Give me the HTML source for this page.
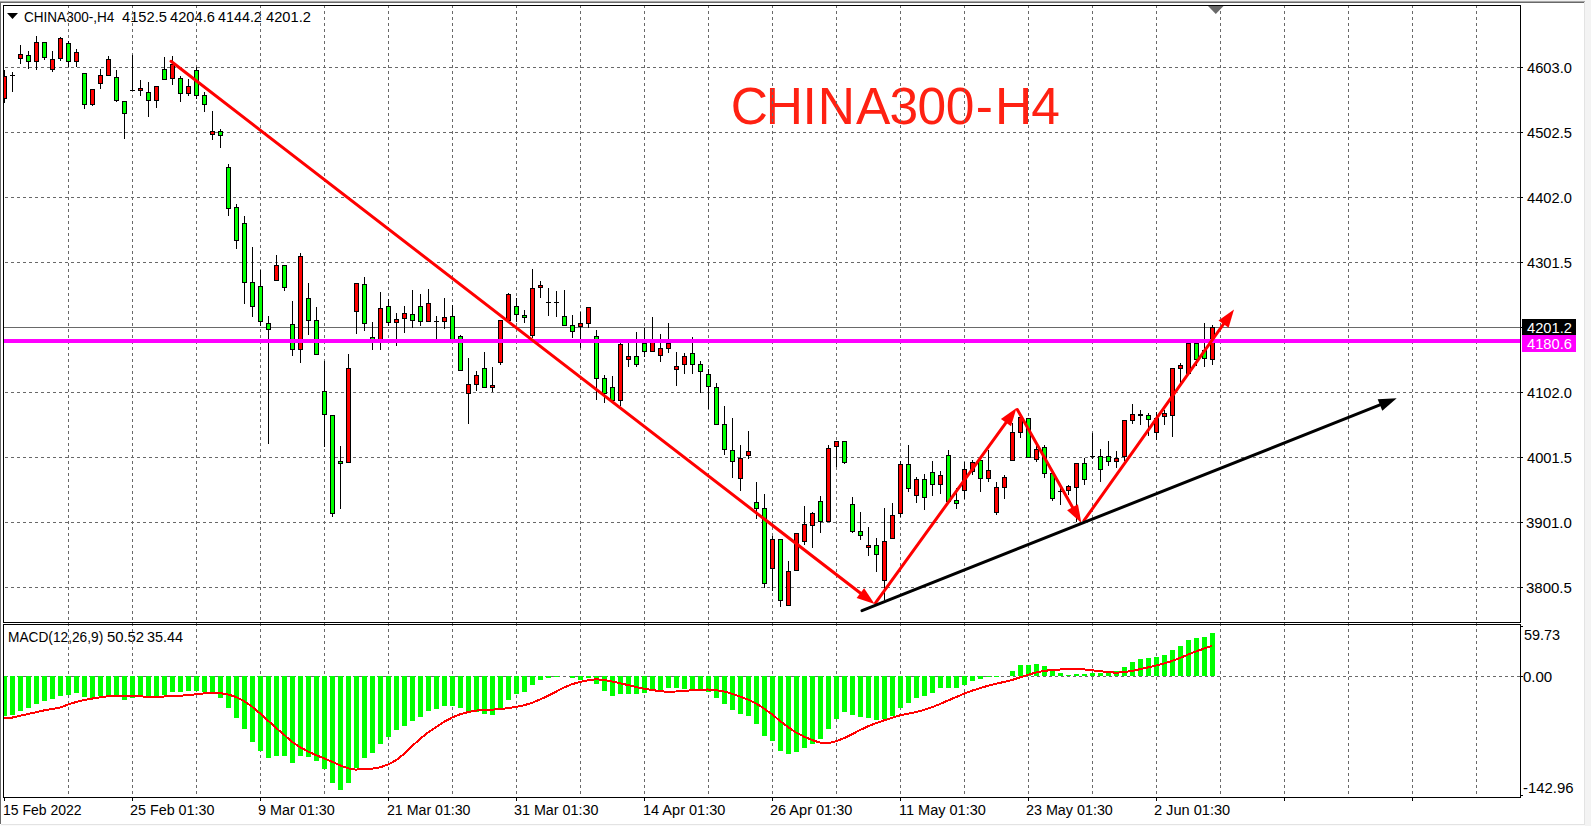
<!DOCTYPE html>
<html><head><meta charset="utf-8"><title>CHINA300-H4</title>
<style>html,body{margin:0;padding:0;background:#fff;overflow:hidden;width:1591px;height:826px}</style>
</head><body>
<svg width="1591" height="826" viewBox="0 0 1591 826" style="display:block">
<rect x="0" y="0" width="1591" height="826" fill="#f3f3f3"/>
<g shape-rendering="crispEdges">
<rect x="0" y="0" width="1585" height="826" fill="#ffffff"/>
<rect x="0" y="0" width="1585" height="1" fill="#f0f0f0"/>
<rect x="0" y="1" width="1585" height="1" fill="#a8a8a8"/>
<rect x="0" y="2" width="1584" height="1" fill="#696969"/>
<rect x="0" y="2" width="1" height="822" fill="#696969"/>
<rect x="1584" y="2" width="1" height="823" fill="#e3e3e3"/>
<rect x="1" y="824" width="1584" height="1" fill="#e3e3e3"/>
<rect x="0" y="825" width="1585" height="1" fill="#fafafa"/>
<text x="730.80 765.75 802.40 817.80 855.90 889.55 917.55 945.75 975.85 994.95 1031.15" y="124" font-family="Liberation Sans, sans-serif" font-size="51.5" fill="#ff2112">CHINA300-H4</text><text x="24.03" y="22" font-family="Liberation Sans, sans-serif" font-size="14" fill="#000" textLength="90.33" lengthAdjust="spacingAndGlyphs">CHINA300-,H4</text><text x="122.00" y="22" font-family="Liberation Sans, sans-serif" font-size="14" fill="#000" textLength="44.87" lengthAdjust="spacingAndGlyphs">4152.5</text><text x="170.00" y="22" font-family="Liberation Sans, sans-serif" font-size="14" fill="#000" textLength="44.87" lengthAdjust="spacingAndGlyphs">4204.6</text><text x="218.00" y="22" font-family="Liberation Sans, sans-serif" font-size="14" fill="#000" textLength="43.85" lengthAdjust="spacingAndGlyphs">4144.2</text><text x="266.00" y="22" font-family="Liberation Sans, sans-serif" font-size="14" fill="#000" textLength="44.87" lengthAdjust="spacingAndGlyphs">4201.2</text><text x="8.02" y="642" font-family="Liberation Sans, sans-serif" font-size="14" fill="#000" textLength="95.22" lengthAdjust="spacingAndGlyphs">MACD(12,26,9)</text><text x="106.94" y="642" font-family="Liberation Sans, sans-serif" font-size="14" fill="#000" textLength="37.17" lengthAdjust="spacingAndGlyphs">50.52</text><text x="146.97" y="642" font-family="Liberation Sans, sans-serif" font-size="14" fill="#000" textLength="36.08" lengthAdjust="spacingAndGlyphs">35.44</text>
<path d="M68 5h1v3h-1zM68 11h1v3h-1zM68 17h1v3h-1zM68 23h1v3h-1zM68 29h1v3h-1zM68 35h1v3h-1zM68 41h1v3h-1zM68 47h1v3h-1zM68 53h1v3h-1zM68 59h1v3h-1zM68 65h1v3h-1zM68 71h1v3h-1zM68 77h1v3h-1zM68 83h1v3h-1zM68 89h1v3h-1zM68 95h1v3h-1zM68 101h1v3h-1zM68 107h1v3h-1zM68 113h1v3h-1zM68 119h1v3h-1zM68 125h1v3h-1zM68 131h1v3h-1zM68 137h1v3h-1zM68 143h1v3h-1zM68 149h1v3h-1zM68 155h1v3h-1zM68 161h1v3h-1zM68 167h1v3h-1zM68 173h1v3h-1zM68 179h1v3h-1zM68 185h1v3h-1zM68 191h1v3h-1zM68 197h1v3h-1zM68 203h1v3h-1zM68 209h1v3h-1zM68 215h1v3h-1zM68 221h1v3h-1zM68 227h1v3h-1zM68 233h1v3h-1zM68 239h1v3h-1zM68 245h1v3h-1zM68 251h1v3h-1zM68 257h1v3h-1zM68 263h1v3h-1zM68 269h1v3h-1zM68 275h1v3h-1zM68 281h1v3h-1zM68 287h1v3h-1zM68 293h1v3h-1zM68 299h1v3h-1zM68 305h1v3h-1zM68 311h1v3h-1zM68 317h1v3h-1zM68 323h1v3h-1zM68 329h1v3h-1zM68 335h1v3h-1zM68 341h1v3h-1zM68 347h1v3h-1zM68 353h1v3h-1zM68 359h1v3h-1zM68 365h1v3h-1zM68 371h1v3h-1zM68 377h1v3h-1zM68 383h1v3h-1zM68 389h1v3h-1zM68 395h1v3h-1zM68 401h1v3h-1zM68 407h1v3h-1zM68 413h1v3h-1zM68 419h1v3h-1zM68 425h1v3h-1zM68 431h1v3h-1zM68 437h1v3h-1zM68 443h1v3h-1zM68 449h1v3h-1zM68 455h1v3h-1zM68 461h1v3h-1zM68 467h1v3h-1zM68 473h1v3h-1zM68 479h1v3h-1zM68 485h1v3h-1zM68 491h1v3h-1zM68 497h1v3h-1zM68 503h1v3h-1zM68 509h1v3h-1zM68 515h1v3h-1zM68 521h1v3h-1zM68 527h1v3h-1zM68 533h1v3h-1zM68 539h1v3h-1zM68 545h1v3h-1zM68 551h1v3h-1zM68 557h1v3h-1zM68 563h1v3h-1zM68 569h1v3h-1zM68 575h1v3h-1zM68 581h1v3h-1zM68 587h1v3h-1zM68 593h1v3h-1zM68 599h1v3h-1zM68 605h1v3h-1zM68 611h1v3h-1zM68 617h1v3h-1zM68 623h1v3h-1zM68 629h1v3h-1zM68 635h1v3h-1zM68 641h1v3h-1zM68 647h1v3h-1zM68 653h1v3h-1zM68 659h1v3h-1zM68 665h1v3h-1zM68 671h1v3h-1zM68 677h1v3h-1zM68 683h1v3h-1zM68 689h1v3h-1zM68 695h1v3h-1zM68 701h1v3h-1zM68 707h1v3h-1zM68 713h1v3h-1zM68 719h1v3h-1zM68 725h1v3h-1zM68 731h1v3h-1zM68 737h1v3h-1zM68 743h1v3h-1zM68 749h1v3h-1zM68 755h1v3h-1zM68 761h1v3h-1zM68 767h1v3h-1zM68 773h1v3h-1zM68 779h1v3h-1zM68 785h1v3h-1zM68 791h1v3h-1zM132 5h1v3h-1zM132 11h1v3h-1zM132 17h1v3h-1zM132 23h1v3h-1zM132 29h1v3h-1zM132 35h1v3h-1zM132 41h1v3h-1zM132 47h1v3h-1zM132 53h1v3h-1zM132 59h1v3h-1zM132 65h1v3h-1zM132 71h1v3h-1zM132 77h1v3h-1zM132 83h1v3h-1zM132 89h1v3h-1zM132 95h1v3h-1zM132 101h1v3h-1zM132 107h1v3h-1zM132 113h1v3h-1zM132 119h1v3h-1zM132 125h1v3h-1zM132 131h1v3h-1zM132 137h1v3h-1zM132 143h1v3h-1zM132 149h1v3h-1zM132 155h1v3h-1zM132 161h1v3h-1zM132 167h1v3h-1zM132 173h1v3h-1zM132 179h1v3h-1zM132 185h1v3h-1zM132 191h1v3h-1zM132 197h1v3h-1zM132 203h1v3h-1zM132 209h1v3h-1zM132 215h1v3h-1zM132 221h1v3h-1zM132 227h1v3h-1zM132 233h1v3h-1zM132 239h1v3h-1zM132 245h1v3h-1zM132 251h1v3h-1zM132 257h1v3h-1zM132 263h1v3h-1zM132 269h1v3h-1zM132 275h1v3h-1zM132 281h1v3h-1zM132 287h1v3h-1zM132 293h1v3h-1zM132 299h1v3h-1zM132 305h1v3h-1zM132 311h1v3h-1zM132 317h1v3h-1zM132 323h1v3h-1zM132 329h1v3h-1zM132 335h1v3h-1zM132 341h1v3h-1zM132 347h1v3h-1zM132 353h1v3h-1zM132 359h1v3h-1zM132 365h1v3h-1zM132 371h1v3h-1zM132 377h1v3h-1zM132 383h1v3h-1zM132 389h1v3h-1zM132 395h1v3h-1zM132 401h1v3h-1zM132 407h1v3h-1zM132 413h1v3h-1zM132 419h1v3h-1zM132 425h1v3h-1zM132 431h1v3h-1zM132 437h1v3h-1zM132 443h1v3h-1zM132 449h1v3h-1zM132 455h1v3h-1zM132 461h1v3h-1zM132 467h1v3h-1zM132 473h1v3h-1zM132 479h1v3h-1zM132 485h1v3h-1zM132 491h1v3h-1zM132 497h1v3h-1zM132 503h1v3h-1zM132 509h1v3h-1zM132 515h1v3h-1zM132 521h1v3h-1zM132 527h1v3h-1zM132 533h1v3h-1zM132 539h1v3h-1zM132 545h1v3h-1zM132 551h1v3h-1zM132 557h1v3h-1zM132 563h1v3h-1zM132 569h1v3h-1zM132 575h1v3h-1zM132 581h1v3h-1zM132 587h1v3h-1zM132 593h1v3h-1zM132 599h1v3h-1zM132 605h1v3h-1zM132 611h1v3h-1zM132 617h1v3h-1zM132 623h1v3h-1zM132 629h1v3h-1zM132 635h1v3h-1zM132 641h1v3h-1zM132 647h1v3h-1zM132 653h1v3h-1zM132 659h1v3h-1zM132 665h1v3h-1zM132 671h1v3h-1zM132 677h1v3h-1zM132 683h1v3h-1zM132 689h1v3h-1zM132 695h1v3h-1zM132 701h1v3h-1zM132 707h1v3h-1zM132 713h1v3h-1zM132 719h1v3h-1zM132 725h1v3h-1zM132 731h1v3h-1zM132 737h1v3h-1zM132 743h1v3h-1zM132 749h1v3h-1zM132 755h1v3h-1zM132 761h1v3h-1zM132 767h1v3h-1zM132 773h1v3h-1zM132 779h1v3h-1zM132 785h1v3h-1zM132 791h1v3h-1zM196 5h1v3h-1zM196 11h1v3h-1zM196 17h1v3h-1zM196 23h1v3h-1zM196 29h1v3h-1zM196 35h1v3h-1zM196 41h1v3h-1zM196 47h1v3h-1zM196 53h1v3h-1zM196 59h1v3h-1zM196 65h1v3h-1zM196 71h1v3h-1zM196 77h1v3h-1zM196 83h1v3h-1zM196 89h1v3h-1zM196 95h1v3h-1zM196 101h1v3h-1zM196 107h1v3h-1zM196 113h1v3h-1zM196 119h1v3h-1zM196 125h1v3h-1zM196 131h1v3h-1zM196 137h1v3h-1zM196 143h1v3h-1zM196 149h1v3h-1zM196 155h1v3h-1zM196 161h1v3h-1zM196 167h1v3h-1zM196 173h1v3h-1zM196 179h1v3h-1zM196 185h1v3h-1zM196 191h1v3h-1zM196 197h1v3h-1zM196 203h1v3h-1zM196 209h1v3h-1zM196 215h1v3h-1zM196 221h1v3h-1zM196 227h1v3h-1zM196 233h1v3h-1zM196 239h1v3h-1zM196 245h1v3h-1zM196 251h1v3h-1zM196 257h1v3h-1zM196 263h1v3h-1zM196 269h1v3h-1zM196 275h1v3h-1zM196 281h1v3h-1zM196 287h1v3h-1zM196 293h1v3h-1zM196 299h1v3h-1zM196 305h1v3h-1zM196 311h1v3h-1zM196 317h1v3h-1zM196 323h1v3h-1zM196 329h1v3h-1zM196 335h1v3h-1zM196 341h1v3h-1zM196 347h1v3h-1zM196 353h1v3h-1zM196 359h1v3h-1zM196 365h1v3h-1zM196 371h1v3h-1zM196 377h1v3h-1zM196 383h1v3h-1zM196 389h1v3h-1zM196 395h1v3h-1zM196 401h1v3h-1zM196 407h1v3h-1zM196 413h1v3h-1zM196 419h1v3h-1zM196 425h1v3h-1zM196 431h1v3h-1zM196 437h1v3h-1zM196 443h1v3h-1zM196 449h1v3h-1zM196 455h1v3h-1zM196 461h1v3h-1zM196 467h1v3h-1zM196 473h1v3h-1zM196 479h1v3h-1zM196 485h1v3h-1zM196 491h1v3h-1zM196 497h1v3h-1zM196 503h1v3h-1zM196 509h1v3h-1zM196 515h1v3h-1zM196 521h1v3h-1zM196 527h1v3h-1zM196 533h1v3h-1zM196 539h1v3h-1zM196 545h1v3h-1zM196 551h1v3h-1zM196 557h1v3h-1zM196 563h1v3h-1zM196 569h1v3h-1zM196 575h1v3h-1zM196 581h1v3h-1zM196 587h1v3h-1zM196 593h1v3h-1zM196 599h1v3h-1zM196 605h1v3h-1zM196 611h1v3h-1zM196 617h1v3h-1zM196 623h1v3h-1zM196 629h1v3h-1zM196 635h1v3h-1zM196 641h1v3h-1zM196 647h1v3h-1zM196 653h1v3h-1zM196 659h1v3h-1zM196 665h1v3h-1zM196 671h1v3h-1zM196 677h1v3h-1zM196 683h1v3h-1zM196 689h1v3h-1zM196 695h1v3h-1zM196 701h1v3h-1zM196 707h1v3h-1zM196 713h1v3h-1zM196 719h1v3h-1zM196 725h1v3h-1zM196 731h1v3h-1zM196 737h1v3h-1zM196 743h1v3h-1zM196 749h1v3h-1zM196 755h1v3h-1zM196 761h1v3h-1zM196 767h1v3h-1zM196 773h1v3h-1zM196 779h1v3h-1zM196 785h1v3h-1zM196 791h1v3h-1zM260 5h1v3h-1zM260 11h1v3h-1zM260 17h1v3h-1zM260 23h1v3h-1zM260 29h1v3h-1zM260 35h1v3h-1zM260 41h1v3h-1zM260 47h1v3h-1zM260 53h1v3h-1zM260 59h1v3h-1zM260 65h1v3h-1zM260 71h1v3h-1zM260 77h1v3h-1zM260 83h1v3h-1zM260 89h1v3h-1zM260 95h1v3h-1zM260 101h1v3h-1zM260 107h1v3h-1zM260 113h1v3h-1zM260 119h1v3h-1zM260 125h1v3h-1zM260 131h1v3h-1zM260 137h1v3h-1zM260 143h1v3h-1zM260 149h1v3h-1zM260 155h1v3h-1zM260 161h1v3h-1zM260 167h1v3h-1zM260 173h1v3h-1zM260 179h1v3h-1zM260 185h1v3h-1zM260 191h1v3h-1zM260 197h1v3h-1zM260 203h1v3h-1zM260 209h1v3h-1zM260 215h1v3h-1zM260 221h1v3h-1zM260 227h1v3h-1zM260 233h1v3h-1zM260 239h1v3h-1zM260 245h1v3h-1zM260 251h1v3h-1zM260 257h1v3h-1zM260 263h1v3h-1zM260 269h1v3h-1zM260 275h1v3h-1zM260 281h1v3h-1zM260 287h1v3h-1zM260 293h1v3h-1zM260 299h1v3h-1zM260 305h1v3h-1zM260 311h1v3h-1zM260 317h1v3h-1zM260 323h1v3h-1zM260 329h1v3h-1zM260 335h1v3h-1zM260 341h1v3h-1zM260 347h1v3h-1zM260 353h1v3h-1zM260 359h1v3h-1zM260 365h1v3h-1zM260 371h1v3h-1zM260 377h1v3h-1zM260 383h1v3h-1zM260 389h1v3h-1zM260 395h1v3h-1zM260 401h1v3h-1zM260 407h1v3h-1zM260 413h1v3h-1zM260 419h1v3h-1zM260 425h1v3h-1zM260 431h1v3h-1zM260 437h1v3h-1zM260 443h1v3h-1zM260 449h1v3h-1zM260 455h1v3h-1zM260 461h1v3h-1zM260 467h1v3h-1zM260 473h1v3h-1zM260 479h1v3h-1zM260 485h1v3h-1zM260 491h1v3h-1zM260 497h1v3h-1zM260 503h1v3h-1zM260 509h1v3h-1zM260 515h1v3h-1zM260 521h1v3h-1zM260 527h1v3h-1zM260 533h1v3h-1zM260 539h1v3h-1zM260 545h1v3h-1zM260 551h1v3h-1zM260 557h1v3h-1zM260 563h1v3h-1zM260 569h1v3h-1zM260 575h1v3h-1zM260 581h1v3h-1zM260 587h1v3h-1zM260 593h1v3h-1zM260 599h1v3h-1zM260 605h1v3h-1zM260 611h1v3h-1zM260 617h1v3h-1zM260 623h1v3h-1zM260 629h1v3h-1zM260 635h1v3h-1zM260 641h1v3h-1zM260 647h1v3h-1zM260 653h1v3h-1zM260 659h1v3h-1zM260 665h1v3h-1zM260 671h1v3h-1zM260 677h1v3h-1zM260 683h1v3h-1zM260 689h1v3h-1zM260 695h1v3h-1zM260 701h1v3h-1zM260 707h1v3h-1zM260 713h1v3h-1zM260 719h1v3h-1zM260 725h1v3h-1zM260 731h1v3h-1zM260 737h1v3h-1zM260 743h1v3h-1zM260 749h1v3h-1zM260 755h1v3h-1zM260 761h1v3h-1zM260 767h1v3h-1zM260 773h1v3h-1zM260 779h1v3h-1zM260 785h1v3h-1zM260 791h1v3h-1zM324 5h1v3h-1zM324 11h1v3h-1zM324 17h1v3h-1zM324 23h1v3h-1zM324 29h1v3h-1zM324 35h1v3h-1zM324 41h1v3h-1zM324 47h1v3h-1zM324 53h1v3h-1zM324 59h1v3h-1zM324 65h1v3h-1zM324 71h1v3h-1zM324 77h1v3h-1zM324 83h1v3h-1zM324 89h1v3h-1zM324 95h1v3h-1zM324 101h1v3h-1zM324 107h1v3h-1zM324 113h1v3h-1zM324 119h1v3h-1zM324 125h1v3h-1zM324 131h1v3h-1zM324 137h1v3h-1zM324 143h1v3h-1zM324 149h1v3h-1zM324 155h1v3h-1zM324 161h1v3h-1zM324 167h1v3h-1zM324 173h1v3h-1zM324 179h1v3h-1zM324 185h1v3h-1zM324 191h1v3h-1zM324 197h1v3h-1zM324 203h1v3h-1zM324 209h1v3h-1zM324 215h1v3h-1zM324 221h1v3h-1zM324 227h1v3h-1zM324 233h1v3h-1zM324 239h1v3h-1zM324 245h1v3h-1zM324 251h1v3h-1zM324 257h1v3h-1zM324 263h1v3h-1zM324 269h1v3h-1zM324 275h1v3h-1zM324 281h1v3h-1zM324 287h1v3h-1zM324 293h1v3h-1zM324 299h1v3h-1zM324 305h1v3h-1zM324 311h1v3h-1zM324 317h1v3h-1zM324 323h1v3h-1zM324 329h1v3h-1zM324 335h1v3h-1zM324 341h1v3h-1zM324 347h1v3h-1zM324 353h1v3h-1zM324 359h1v3h-1zM324 365h1v3h-1zM324 371h1v3h-1zM324 377h1v3h-1zM324 383h1v3h-1zM324 389h1v3h-1zM324 395h1v3h-1zM324 401h1v3h-1zM324 407h1v3h-1zM324 413h1v3h-1zM324 419h1v3h-1zM324 425h1v3h-1zM324 431h1v3h-1zM324 437h1v3h-1zM324 443h1v3h-1zM324 449h1v3h-1zM324 455h1v3h-1zM324 461h1v3h-1zM324 467h1v3h-1zM324 473h1v3h-1zM324 479h1v3h-1zM324 485h1v3h-1zM324 491h1v3h-1zM324 497h1v3h-1zM324 503h1v3h-1zM324 509h1v3h-1zM324 515h1v3h-1zM324 521h1v3h-1zM324 527h1v3h-1zM324 533h1v3h-1zM324 539h1v3h-1zM324 545h1v3h-1zM324 551h1v3h-1zM324 557h1v3h-1zM324 563h1v3h-1zM324 569h1v3h-1zM324 575h1v3h-1zM324 581h1v3h-1zM324 587h1v3h-1zM324 593h1v3h-1zM324 599h1v3h-1zM324 605h1v3h-1zM324 611h1v3h-1zM324 617h1v3h-1zM324 623h1v3h-1zM324 629h1v3h-1zM324 635h1v3h-1zM324 641h1v3h-1zM324 647h1v3h-1zM324 653h1v3h-1zM324 659h1v3h-1zM324 665h1v3h-1zM324 671h1v3h-1zM324 677h1v3h-1zM324 683h1v3h-1zM324 689h1v3h-1zM324 695h1v3h-1zM324 701h1v3h-1zM324 707h1v3h-1zM324 713h1v3h-1zM324 719h1v3h-1zM324 725h1v3h-1zM324 731h1v3h-1zM324 737h1v3h-1zM324 743h1v3h-1zM324 749h1v3h-1zM324 755h1v3h-1zM324 761h1v3h-1zM324 767h1v3h-1zM324 773h1v3h-1zM324 779h1v3h-1zM324 785h1v3h-1zM324 791h1v3h-1zM388 5h1v3h-1zM388 11h1v3h-1zM388 17h1v3h-1zM388 23h1v3h-1zM388 29h1v3h-1zM388 35h1v3h-1zM388 41h1v3h-1zM388 47h1v3h-1zM388 53h1v3h-1zM388 59h1v3h-1zM388 65h1v3h-1zM388 71h1v3h-1zM388 77h1v3h-1zM388 83h1v3h-1zM388 89h1v3h-1zM388 95h1v3h-1zM388 101h1v3h-1zM388 107h1v3h-1zM388 113h1v3h-1zM388 119h1v3h-1zM388 125h1v3h-1zM388 131h1v3h-1zM388 137h1v3h-1zM388 143h1v3h-1zM388 149h1v3h-1zM388 155h1v3h-1zM388 161h1v3h-1zM388 167h1v3h-1zM388 173h1v3h-1zM388 179h1v3h-1zM388 185h1v3h-1zM388 191h1v3h-1zM388 197h1v3h-1zM388 203h1v3h-1zM388 209h1v3h-1zM388 215h1v3h-1zM388 221h1v3h-1zM388 227h1v3h-1zM388 233h1v3h-1zM388 239h1v3h-1zM388 245h1v3h-1zM388 251h1v3h-1zM388 257h1v3h-1zM388 263h1v3h-1zM388 269h1v3h-1zM388 275h1v3h-1zM388 281h1v3h-1zM388 287h1v3h-1zM388 293h1v3h-1zM388 299h1v3h-1zM388 305h1v3h-1zM388 311h1v3h-1zM388 317h1v3h-1zM388 323h1v3h-1zM388 329h1v3h-1zM388 335h1v3h-1zM388 341h1v3h-1zM388 347h1v3h-1zM388 353h1v3h-1zM388 359h1v3h-1zM388 365h1v3h-1zM388 371h1v3h-1zM388 377h1v3h-1zM388 383h1v3h-1zM388 389h1v3h-1zM388 395h1v3h-1zM388 401h1v3h-1zM388 407h1v3h-1zM388 413h1v3h-1zM388 419h1v3h-1zM388 425h1v3h-1zM388 431h1v3h-1zM388 437h1v3h-1zM388 443h1v3h-1zM388 449h1v3h-1zM388 455h1v3h-1zM388 461h1v3h-1zM388 467h1v3h-1zM388 473h1v3h-1zM388 479h1v3h-1zM388 485h1v3h-1zM388 491h1v3h-1zM388 497h1v3h-1zM388 503h1v3h-1zM388 509h1v3h-1zM388 515h1v3h-1zM388 521h1v3h-1zM388 527h1v3h-1zM388 533h1v3h-1zM388 539h1v3h-1zM388 545h1v3h-1zM388 551h1v3h-1zM388 557h1v3h-1zM388 563h1v3h-1zM388 569h1v3h-1zM388 575h1v3h-1zM388 581h1v3h-1zM388 587h1v3h-1zM388 593h1v3h-1zM388 599h1v3h-1zM388 605h1v3h-1zM388 611h1v3h-1zM388 617h1v3h-1zM388 623h1v3h-1zM388 629h1v3h-1zM388 635h1v3h-1zM388 641h1v3h-1zM388 647h1v3h-1zM388 653h1v3h-1zM388 659h1v3h-1zM388 665h1v3h-1zM388 671h1v3h-1zM388 677h1v3h-1zM388 683h1v3h-1zM388 689h1v3h-1zM388 695h1v3h-1zM388 701h1v3h-1zM388 707h1v3h-1zM388 713h1v3h-1zM388 719h1v3h-1zM388 725h1v3h-1zM388 731h1v3h-1zM388 737h1v3h-1zM388 743h1v3h-1zM388 749h1v3h-1zM388 755h1v3h-1zM388 761h1v3h-1zM388 767h1v3h-1zM388 773h1v3h-1zM388 779h1v3h-1zM388 785h1v3h-1zM388 791h1v3h-1zM452 5h1v3h-1zM452 11h1v3h-1zM452 17h1v3h-1zM452 23h1v3h-1zM452 29h1v3h-1zM452 35h1v3h-1zM452 41h1v3h-1zM452 47h1v3h-1zM452 53h1v3h-1zM452 59h1v3h-1zM452 65h1v3h-1zM452 71h1v3h-1zM452 77h1v3h-1zM452 83h1v3h-1zM452 89h1v3h-1zM452 95h1v3h-1zM452 101h1v3h-1zM452 107h1v3h-1zM452 113h1v3h-1zM452 119h1v3h-1zM452 125h1v3h-1zM452 131h1v3h-1zM452 137h1v3h-1zM452 143h1v3h-1zM452 149h1v3h-1zM452 155h1v3h-1zM452 161h1v3h-1zM452 167h1v3h-1zM452 173h1v3h-1zM452 179h1v3h-1zM452 185h1v3h-1zM452 191h1v3h-1zM452 197h1v3h-1zM452 203h1v3h-1zM452 209h1v3h-1zM452 215h1v3h-1zM452 221h1v3h-1zM452 227h1v3h-1zM452 233h1v3h-1zM452 239h1v3h-1zM452 245h1v3h-1zM452 251h1v3h-1zM452 257h1v3h-1zM452 263h1v3h-1zM452 269h1v3h-1zM452 275h1v3h-1zM452 281h1v3h-1zM452 287h1v3h-1zM452 293h1v3h-1zM452 299h1v3h-1zM452 305h1v3h-1zM452 311h1v3h-1zM452 317h1v3h-1zM452 323h1v3h-1zM452 329h1v3h-1zM452 335h1v3h-1zM452 341h1v3h-1zM452 347h1v3h-1zM452 353h1v3h-1zM452 359h1v3h-1zM452 365h1v3h-1zM452 371h1v3h-1zM452 377h1v3h-1zM452 383h1v3h-1zM452 389h1v3h-1zM452 395h1v3h-1zM452 401h1v3h-1zM452 407h1v3h-1zM452 413h1v3h-1zM452 419h1v3h-1zM452 425h1v3h-1zM452 431h1v3h-1zM452 437h1v3h-1zM452 443h1v3h-1zM452 449h1v3h-1zM452 455h1v3h-1zM452 461h1v3h-1zM452 467h1v3h-1zM452 473h1v3h-1zM452 479h1v3h-1zM452 485h1v3h-1zM452 491h1v3h-1zM452 497h1v3h-1zM452 503h1v3h-1zM452 509h1v3h-1zM452 515h1v3h-1zM452 521h1v3h-1zM452 527h1v3h-1zM452 533h1v3h-1zM452 539h1v3h-1zM452 545h1v3h-1zM452 551h1v3h-1zM452 557h1v3h-1zM452 563h1v3h-1zM452 569h1v3h-1zM452 575h1v3h-1zM452 581h1v3h-1zM452 587h1v3h-1zM452 593h1v3h-1zM452 599h1v3h-1zM452 605h1v3h-1zM452 611h1v3h-1zM452 617h1v3h-1zM452 623h1v3h-1zM452 629h1v3h-1zM452 635h1v3h-1zM452 641h1v3h-1zM452 647h1v3h-1zM452 653h1v3h-1zM452 659h1v3h-1zM452 665h1v3h-1zM452 671h1v3h-1zM452 677h1v3h-1zM452 683h1v3h-1zM452 689h1v3h-1zM452 695h1v3h-1zM452 701h1v3h-1zM452 707h1v3h-1zM452 713h1v3h-1zM452 719h1v3h-1zM452 725h1v3h-1zM452 731h1v3h-1zM452 737h1v3h-1zM452 743h1v3h-1zM452 749h1v3h-1zM452 755h1v3h-1zM452 761h1v3h-1zM452 767h1v3h-1zM452 773h1v3h-1zM452 779h1v3h-1zM452 785h1v3h-1zM452 791h1v3h-1zM516 5h1v3h-1zM516 11h1v3h-1zM516 17h1v3h-1zM516 23h1v3h-1zM516 29h1v3h-1zM516 35h1v3h-1zM516 41h1v3h-1zM516 47h1v3h-1zM516 53h1v3h-1zM516 59h1v3h-1zM516 65h1v3h-1zM516 71h1v3h-1zM516 77h1v3h-1zM516 83h1v3h-1zM516 89h1v3h-1zM516 95h1v3h-1zM516 101h1v3h-1zM516 107h1v3h-1zM516 113h1v3h-1zM516 119h1v3h-1zM516 125h1v3h-1zM516 131h1v3h-1zM516 137h1v3h-1zM516 143h1v3h-1zM516 149h1v3h-1zM516 155h1v3h-1zM516 161h1v3h-1zM516 167h1v3h-1zM516 173h1v3h-1zM516 179h1v3h-1zM516 185h1v3h-1zM516 191h1v3h-1zM516 197h1v3h-1zM516 203h1v3h-1zM516 209h1v3h-1zM516 215h1v3h-1zM516 221h1v3h-1zM516 227h1v3h-1zM516 233h1v3h-1zM516 239h1v3h-1zM516 245h1v3h-1zM516 251h1v3h-1zM516 257h1v3h-1zM516 263h1v3h-1zM516 269h1v3h-1zM516 275h1v3h-1zM516 281h1v3h-1zM516 287h1v3h-1zM516 293h1v3h-1zM516 299h1v3h-1zM516 305h1v3h-1zM516 311h1v3h-1zM516 317h1v3h-1zM516 323h1v3h-1zM516 329h1v3h-1zM516 335h1v3h-1zM516 341h1v3h-1zM516 347h1v3h-1zM516 353h1v3h-1zM516 359h1v3h-1zM516 365h1v3h-1zM516 371h1v3h-1zM516 377h1v3h-1zM516 383h1v3h-1zM516 389h1v3h-1zM516 395h1v3h-1zM516 401h1v3h-1zM516 407h1v3h-1zM516 413h1v3h-1zM516 419h1v3h-1zM516 425h1v3h-1zM516 431h1v3h-1zM516 437h1v3h-1zM516 443h1v3h-1zM516 449h1v3h-1zM516 455h1v3h-1zM516 461h1v3h-1zM516 467h1v3h-1zM516 473h1v3h-1zM516 479h1v3h-1zM516 485h1v3h-1zM516 491h1v3h-1zM516 497h1v3h-1zM516 503h1v3h-1zM516 509h1v3h-1zM516 515h1v3h-1zM516 521h1v3h-1zM516 527h1v3h-1zM516 533h1v3h-1zM516 539h1v3h-1zM516 545h1v3h-1zM516 551h1v3h-1zM516 557h1v3h-1zM516 563h1v3h-1zM516 569h1v3h-1zM516 575h1v3h-1zM516 581h1v3h-1zM516 587h1v3h-1zM516 593h1v3h-1zM516 599h1v3h-1zM516 605h1v3h-1zM516 611h1v3h-1zM516 617h1v3h-1zM516 623h1v3h-1zM516 629h1v3h-1zM516 635h1v3h-1zM516 641h1v3h-1zM516 647h1v3h-1zM516 653h1v3h-1zM516 659h1v3h-1zM516 665h1v3h-1zM516 671h1v3h-1zM516 677h1v3h-1zM516 683h1v3h-1zM516 689h1v3h-1zM516 695h1v3h-1zM516 701h1v3h-1zM516 707h1v3h-1zM516 713h1v3h-1zM516 719h1v3h-1zM516 725h1v3h-1zM516 731h1v3h-1zM516 737h1v3h-1zM516 743h1v3h-1zM516 749h1v3h-1zM516 755h1v3h-1zM516 761h1v3h-1zM516 767h1v3h-1zM516 773h1v3h-1zM516 779h1v3h-1zM516 785h1v3h-1zM516 791h1v3h-1zM580 5h1v3h-1zM580 11h1v3h-1zM580 17h1v3h-1zM580 23h1v3h-1zM580 29h1v3h-1zM580 35h1v3h-1zM580 41h1v3h-1zM580 47h1v3h-1zM580 53h1v3h-1zM580 59h1v3h-1zM580 65h1v3h-1zM580 71h1v3h-1zM580 77h1v3h-1zM580 83h1v3h-1zM580 89h1v3h-1zM580 95h1v3h-1zM580 101h1v3h-1zM580 107h1v3h-1zM580 113h1v3h-1zM580 119h1v3h-1zM580 125h1v3h-1zM580 131h1v3h-1zM580 137h1v3h-1zM580 143h1v3h-1zM580 149h1v3h-1zM580 155h1v3h-1zM580 161h1v3h-1zM580 167h1v3h-1zM580 173h1v3h-1zM580 179h1v3h-1zM580 185h1v3h-1zM580 191h1v3h-1zM580 197h1v3h-1zM580 203h1v3h-1zM580 209h1v3h-1zM580 215h1v3h-1zM580 221h1v3h-1zM580 227h1v3h-1zM580 233h1v3h-1zM580 239h1v3h-1zM580 245h1v3h-1zM580 251h1v3h-1zM580 257h1v3h-1zM580 263h1v3h-1zM580 269h1v3h-1zM580 275h1v3h-1zM580 281h1v3h-1zM580 287h1v3h-1zM580 293h1v3h-1zM580 299h1v3h-1zM580 305h1v3h-1zM580 311h1v3h-1zM580 317h1v3h-1zM580 323h1v3h-1zM580 329h1v3h-1zM580 335h1v3h-1zM580 341h1v3h-1zM580 347h1v3h-1zM580 353h1v3h-1zM580 359h1v3h-1zM580 365h1v3h-1zM580 371h1v3h-1zM580 377h1v3h-1zM580 383h1v3h-1zM580 389h1v3h-1zM580 395h1v3h-1zM580 401h1v3h-1zM580 407h1v3h-1zM580 413h1v3h-1zM580 419h1v3h-1zM580 425h1v3h-1zM580 431h1v3h-1zM580 437h1v3h-1zM580 443h1v3h-1zM580 449h1v3h-1zM580 455h1v3h-1zM580 461h1v3h-1zM580 467h1v3h-1zM580 473h1v3h-1zM580 479h1v3h-1zM580 485h1v3h-1zM580 491h1v3h-1zM580 497h1v3h-1zM580 503h1v3h-1zM580 509h1v3h-1zM580 515h1v3h-1zM580 521h1v3h-1zM580 527h1v3h-1zM580 533h1v3h-1zM580 539h1v3h-1zM580 545h1v3h-1zM580 551h1v3h-1zM580 557h1v3h-1zM580 563h1v3h-1zM580 569h1v3h-1zM580 575h1v3h-1zM580 581h1v3h-1zM580 587h1v3h-1zM580 593h1v3h-1zM580 599h1v3h-1zM580 605h1v3h-1zM580 611h1v3h-1zM580 617h1v3h-1zM580 623h1v3h-1zM580 629h1v3h-1zM580 635h1v3h-1zM580 641h1v3h-1zM580 647h1v3h-1zM580 653h1v3h-1zM580 659h1v3h-1zM580 665h1v3h-1zM580 671h1v3h-1zM580 677h1v3h-1zM580 683h1v3h-1zM580 689h1v3h-1zM580 695h1v3h-1zM580 701h1v3h-1zM580 707h1v3h-1zM580 713h1v3h-1zM580 719h1v3h-1zM580 725h1v3h-1zM580 731h1v3h-1zM580 737h1v3h-1zM580 743h1v3h-1zM580 749h1v3h-1zM580 755h1v3h-1zM580 761h1v3h-1zM580 767h1v3h-1zM580 773h1v3h-1zM580 779h1v3h-1zM580 785h1v3h-1zM580 791h1v3h-1zM644 5h1v3h-1zM644 11h1v3h-1zM644 17h1v3h-1zM644 23h1v3h-1zM644 29h1v3h-1zM644 35h1v3h-1zM644 41h1v3h-1zM644 47h1v3h-1zM644 53h1v3h-1zM644 59h1v3h-1zM644 65h1v3h-1zM644 71h1v3h-1zM644 77h1v3h-1zM644 83h1v3h-1zM644 89h1v3h-1zM644 95h1v3h-1zM644 101h1v3h-1zM644 107h1v3h-1zM644 113h1v3h-1zM644 119h1v3h-1zM644 125h1v3h-1zM644 131h1v3h-1zM644 137h1v3h-1zM644 143h1v3h-1zM644 149h1v3h-1zM644 155h1v3h-1zM644 161h1v3h-1zM644 167h1v3h-1zM644 173h1v3h-1zM644 179h1v3h-1zM644 185h1v3h-1zM644 191h1v3h-1zM644 197h1v3h-1zM644 203h1v3h-1zM644 209h1v3h-1zM644 215h1v3h-1zM644 221h1v3h-1zM644 227h1v3h-1zM644 233h1v3h-1zM644 239h1v3h-1zM644 245h1v3h-1zM644 251h1v3h-1zM644 257h1v3h-1zM644 263h1v3h-1zM644 269h1v3h-1zM644 275h1v3h-1zM644 281h1v3h-1zM644 287h1v3h-1zM644 293h1v3h-1zM644 299h1v3h-1zM644 305h1v3h-1zM644 311h1v3h-1zM644 317h1v3h-1zM644 323h1v3h-1zM644 329h1v3h-1zM644 335h1v3h-1zM644 341h1v3h-1zM644 347h1v3h-1zM644 353h1v3h-1zM644 359h1v3h-1zM644 365h1v3h-1zM644 371h1v3h-1zM644 377h1v3h-1zM644 383h1v3h-1zM644 389h1v3h-1zM644 395h1v3h-1zM644 401h1v3h-1zM644 407h1v3h-1zM644 413h1v3h-1zM644 419h1v3h-1zM644 425h1v3h-1zM644 431h1v3h-1zM644 437h1v3h-1zM644 443h1v3h-1zM644 449h1v3h-1zM644 455h1v3h-1zM644 461h1v3h-1zM644 467h1v3h-1zM644 473h1v3h-1zM644 479h1v3h-1zM644 485h1v3h-1zM644 491h1v3h-1zM644 497h1v3h-1zM644 503h1v3h-1zM644 509h1v3h-1zM644 515h1v3h-1zM644 521h1v3h-1zM644 527h1v3h-1zM644 533h1v3h-1zM644 539h1v3h-1zM644 545h1v3h-1zM644 551h1v3h-1zM644 557h1v3h-1zM644 563h1v3h-1zM644 569h1v3h-1zM644 575h1v3h-1zM644 581h1v3h-1zM644 587h1v3h-1zM644 593h1v3h-1zM644 599h1v3h-1zM644 605h1v3h-1zM644 611h1v3h-1zM644 617h1v3h-1zM644 623h1v3h-1zM644 629h1v3h-1zM644 635h1v3h-1zM644 641h1v3h-1zM644 647h1v3h-1zM644 653h1v3h-1zM644 659h1v3h-1zM644 665h1v3h-1zM644 671h1v3h-1zM644 677h1v3h-1zM644 683h1v3h-1zM644 689h1v3h-1zM644 695h1v3h-1zM644 701h1v3h-1zM644 707h1v3h-1zM644 713h1v3h-1zM644 719h1v3h-1zM644 725h1v3h-1zM644 731h1v3h-1zM644 737h1v3h-1zM644 743h1v3h-1zM644 749h1v3h-1zM644 755h1v3h-1zM644 761h1v3h-1zM644 767h1v3h-1zM644 773h1v3h-1zM644 779h1v3h-1zM644 785h1v3h-1zM644 791h1v3h-1zM708 5h1v3h-1zM708 11h1v3h-1zM708 17h1v3h-1zM708 23h1v3h-1zM708 29h1v3h-1zM708 35h1v3h-1zM708 41h1v3h-1zM708 47h1v3h-1zM708 53h1v3h-1zM708 59h1v3h-1zM708 65h1v3h-1zM708 71h1v3h-1zM708 77h1v3h-1zM708 83h1v3h-1zM708 89h1v3h-1zM708 95h1v3h-1zM708 101h1v3h-1zM708 107h1v3h-1zM708 113h1v3h-1zM708 119h1v3h-1zM708 125h1v3h-1zM708 131h1v3h-1zM708 137h1v3h-1zM708 143h1v3h-1zM708 149h1v3h-1zM708 155h1v3h-1zM708 161h1v3h-1zM708 167h1v3h-1zM708 173h1v3h-1zM708 179h1v3h-1zM708 185h1v3h-1zM708 191h1v3h-1zM708 197h1v3h-1zM708 203h1v3h-1zM708 209h1v3h-1zM708 215h1v3h-1zM708 221h1v3h-1zM708 227h1v3h-1zM708 233h1v3h-1zM708 239h1v3h-1zM708 245h1v3h-1zM708 251h1v3h-1zM708 257h1v3h-1zM708 263h1v3h-1zM708 269h1v3h-1zM708 275h1v3h-1zM708 281h1v3h-1zM708 287h1v3h-1zM708 293h1v3h-1zM708 299h1v3h-1zM708 305h1v3h-1zM708 311h1v3h-1zM708 317h1v3h-1zM708 323h1v3h-1zM708 329h1v3h-1zM708 335h1v3h-1zM708 341h1v3h-1zM708 347h1v3h-1zM708 353h1v3h-1zM708 359h1v3h-1zM708 365h1v3h-1zM708 371h1v3h-1zM708 377h1v3h-1zM708 383h1v3h-1zM708 389h1v3h-1zM708 395h1v3h-1zM708 401h1v3h-1zM708 407h1v3h-1zM708 413h1v3h-1zM708 419h1v3h-1zM708 425h1v3h-1zM708 431h1v3h-1zM708 437h1v3h-1zM708 443h1v3h-1zM708 449h1v3h-1zM708 455h1v3h-1zM708 461h1v3h-1zM708 467h1v3h-1zM708 473h1v3h-1zM708 479h1v3h-1zM708 485h1v3h-1zM708 491h1v3h-1zM708 497h1v3h-1zM708 503h1v3h-1zM708 509h1v3h-1zM708 515h1v3h-1zM708 521h1v3h-1zM708 527h1v3h-1zM708 533h1v3h-1zM708 539h1v3h-1zM708 545h1v3h-1zM708 551h1v3h-1zM708 557h1v3h-1zM708 563h1v3h-1zM708 569h1v3h-1zM708 575h1v3h-1zM708 581h1v3h-1zM708 587h1v3h-1zM708 593h1v3h-1zM708 599h1v3h-1zM708 605h1v3h-1zM708 611h1v3h-1zM708 617h1v3h-1zM708 623h1v3h-1zM708 629h1v3h-1zM708 635h1v3h-1zM708 641h1v3h-1zM708 647h1v3h-1zM708 653h1v3h-1zM708 659h1v3h-1zM708 665h1v3h-1zM708 671h1v3h-1zM708 677h1v3h-1zM708 683h1v3h-1zM708 689h1v3h-1zM708 695h1v3h-1zM708 701h1v3h-1zM708 707h1v3h-1zM708 713h1v3h-1zM708 719h1v3h-1zM708 725h1v3h-1zM708 731h1v3h-1zM708 737h1v3h-1zM708 743h1v3h-1zM708 749h1v3h-1zM708 755h1v3h-1zM708 761h1v3h-1zM708 767h1v3h-1zM708 773h1v3h-1zM708 779h1v3h-1zM708 785h1v3h-1zM708 791h1v3h-1zM772 5h1v3h-1zM772 11h1v3h-1zM772 17h1v3h-1zM772 23h1v3h-1zM772 29h1v3h-1zM772 35h1v3h-1zM772 41h1v3h-1zM772 47h1v3h-1zM772 53h1v3h-1zM772 59h1v3h-1zM772 65h1v3h-1zM772 71h1v3h-1zM772 77h1v3h-1zM772 83h1v3h-1zM772 89h1v3h-1zM772 95h1v3h-1zM772 101h1v3h-1zM772 107h1v3h-1zM772 113h1v3h-1zM772 119h1v3h-1zM772 125h1v3h-1zM772 131h1v3h-1zM772 137h1v3h-1zM772 143h1v3h-1zM772 149h1v3h-1zM772 155h1v3h-1zM772 161h1v3h-1zM772 167h1v3h-1zM772 173h1v3h-1zM772 179h1v3h-1zM772 185h1v3h-1zM772 191h1v3h-1zM772 197h1v3h-1zM772 203h1v3h-1zM772 209h1v3h-1zM772 215h1v3h-1zM772 221h1v3h-1zM772 227h1v3h-1zM772 233h1v3h-1zM772 239h1v3h-1zM772 245h1v3h-1zM772 251h1v3h-1zM772 257h1v3h-1zM772 263h1v3h-1zM772 269h1v3h-1zM772 275h1v3h-1zM772 281h1v3h-1zM772 287h1v3h-1zM772 293h1v3h-1zM772 299h1v3h-1zM772 305h1v3h-1zM772 311h1v3h-1zM772 317h1v3h-1zM772 323h1v3h-1zM772 329h1v3h-1zM772 335h1v3h-1zM772 341h1v3h-1zM772 347h1v3h-1zM772 353h1v3h-1zM772 359h1v3h-1zM772 365h1v3h-1zM772 371h1v3h-1zM772 377h1v3h-1zM772 383h1v3h-1zM772 389h1v3h-1zM772 395h1v3h-1zM772 401h1v3h-1zM772 407h1v3h-1zM772 413h1v3h-1zM772 419h1v3h-1zM772 425h1v3h-1zM772 431h1v3h-1zM772 437h1v3h-1zM772 443h1v3h-1zM772 449h1v3h-1zM772 455h1v3h-1zM772 461h1v3h-1zM772 467h1v3h-1zM772 473h1v3h-1zM772 479h1v3h-1zM772 485h1v3h-1zM772 491h1v3h-1zM772 497h1v3h-1zM772 503h1v3h-1zM772 509h1v3h-1zM772 515h1v3h-1zM772 521h1v3h-1zM772 527h1v3h-1zM772 533h1v3h-1zM772 539h1v3h-1zM772 545h1v3h-1zM772 551h1v3h-1zM772 557h1v3h-1zM772 563h1v3h-1zM772 569h1v3h-1zM772 575h1v3h-1zM772 581h1v3h-1zM772 587h1v3h-1zM772 593h1v3h-1zM772 599h1v3h-1zM772 605h1v3h-1zM772 611h1v3h-1zM772 617h1v3h-1zM772 623h1v3h-1zM772 629h1v3h-1zM772 635h1v3h-1zM772 641h1v3h-1zM772 647h1v3h-1zM772 653h1v3h-1zM772 659h1v3h-1zM772 665h1v3h-1zM772 671h1v3h-1zM772 677h1v3h-1zM772 683h1v3h-1zM772 689h1v3h-1zM772 695h1v3h-1zM772 701h1v3h-1zM772 707h1v3h-1zM772 713h1v3h-1zM772 719h1v3h-1zM772 725h1v3h-1zM772 731h1v3h-1zM772 737h1v3h-1zM772 743h1v3h-1zM772 749h1v3h-1zM772 755h1v3h-1zM772 761h1v3h-1zM772 767h1v3h-1zM772 773h1v3h-1zM772 779h1v3h-1zM772 785h1v3h-1zM772 791h1v3h-1zM836 5h1v3h-1zM836 11h1v3h-1zM836 17h1v3h-1zM836 23h1v3h-1zM836 29h1v3h-1zM836 35h1v3h-1zM836 41h1v3h-1zM836 47h1v3h-1zM836 53h1v3h-1zM836 59h1v3h-1zM836 65h1v3h-1zM836 71h1v3h-1zM836 77h1v3h-1zM836 83h1v3h-1zM836 89h1v3h-1zM836 95h1v3h-1zM836 101h1v3h-1zM836 107h1v3h-1zM836 113h1v3h-1zM836 119h1v3h-1zM836 125h1v3h-1zM836 131h1v3h-1zM836 137h1v3h-1zM836 143h1v3h-1zM836 149h1v3h-1zM836 155h1v3h-1zM836 161h1v3h-1zM836 167h1v3h-1zM836 173h1v3h-1zM836 179h1v3h-1zM836 185h1v3h-1zM836 191h1v3h-1zM836 197h1v3h-1zM836 203h1v3h-1zM836 209h1v3h-1zM836 215h1v3h-1zM836 221h1v3h-1zM836 227h1v3h-1zM836 233h1v3h-1zM836 239h1v3h-1zM836 245h1v3h-1zM836 251h1v3h-1zM836 257h1v3h-1zM836 263h1v3h-1zM836 269h1v3h-1zM836 275h1v3h-1zM836 281h1v3h-1zM836 287h1v3h-1zM836 293h1v3h-1zM836 299h1v3h-1zM836 305h1v3h-1zM836 311h1v3h-1zM836 317h1v3h-1zM836 323h1v3h-1zM836 329h1v3h-1zM836 335h1v3h-1zM836 341h1v3h-1zM836 347h1v3h-1zM836 353h1v3h-1zM836 359h1v3h-1zM836 365h1v3h-1zM836 371h1v3h-1zM836 377h1v3h-1zM836 383h1v3h-1zM836 389h1v3h-1zM836 395h1v3h-1zM836 401h1v3h-1zM836 407h1v3h-1zM836 413h1v3h-1zM836 419h1v3h-1zM836 425h1v3h-1zM836 431h1v3h-1zM836 437h1v3h-1zM836 443h1v3h-1zM836 449h1v3h-1zM836 455h1v3h-1zM836 461h1v3h-1zM836 467h1v3h-1zM836 473h1v3h-1zM836 479h1v3h-1zM836 485h1v3h-1zM836 491h1v3h-1zM836 497h1v3h-1zM836 503h1v3h-1zM836 509h1v3h-1zM836 515h1v3h-1zM836 521h1v3h-1zM836 527h1v3h-1zM836 533h1v3h-1zM836 539h1v3h-1zM836 545h1v3h-1zM836 551h1v3h-1zM836 557h1v3h-1zM836 563h1v3h-1zM836 569h1v3h-1zM836 575h1v3h-1zM836 581h1v3h-1zM836 587h1v3h-1zM836 593h1v3h-1zM836 599h1v3h-1zM836 605h1v3h-1zM836 611h1v3h-1zM836 617h1v3h-1zM836 623h1v3h-1zM836 629h1v3h-1zM836 635h1v3h-1zM836 641h1v3h-1zM836 647h1v3h-1zM836 653h1v3h-1zM836 659h1v3h-1zM836 665h1v3h-1zM836 671h1v3h-1zM836 677h1v3h-1zM836 683h1v3h-1zM836 689h1v3h-1zM836 695h1v3h-1zM836 701h1v3h-1zM836 707h1v3h-1zM836 713h1v3h-1zM836 719h1v3h-1zM836 725h1v3h-1zM836 731h1v3h-1zM836 737h1v3h-1zM836 743h1v3h-1zM836 749h1v3h-1zM836 755h1v3h-1zM836 761h1v3h-1zM836 767h1v3h-1zM836 773h1v3h-1zM836 779h1v3h-1zM836 785h1v3h-1zM836 791h1v3h-1zM900 5h1v3h-1zM900 11h1v3h-1zM900 17h1v3h-1zM900 23h1v3h-1zM900 29h1v3h-1zM900 35h1v3h-1zM900 41h1v3h-1zM900 47h1v3h-1zM900 53h1v3h-1zM900 59h1v3h-1zM900 65h1v3h-1zM900 71h1v3h-1zM900 77h1v3h-1zM900 83h1v3h-1zM900 89h1v3h-1zM900 95h1v3h-1zM900 101h1v3h-1zM900 107h1v3h-1zM900 113h1v3h-1zM900 119h1v3h-1zM900 125h1v3h-1zM900 131h1v3h-1zM900 137h1v3h-1zM900 143h1v3h-1zM900 149h1v3h-1zM900 155h1v3h-1zM900 161h1v3h-1zM900 167h1v3h-1zM900 173h1v3h-1zM900 179h1v3h-1zM900 185h1v3h-1zM900 191h1v3h-1zM900 197h1v3h-1zM900 203h1v3h-1zM900 209h1v3h-1zM900 215h1v3h-1zM900 221h1v3h-1zM900 227h1v3h-1zM900 233h1v3h-1zM900 239h1v3h-1zM900 245h1v3h-1zM900 251h1v3h-1zM900 257h1v3h-1zM900 263h1v3h-1zM900 269h1v3h-1zM900 275h1v3h-1zM900 281h1v3h-1zM900 287h1v3h-1zM900 293h1v3h-1zM900 299h1v3h-1zM900 305h1v3h-1zM900 311h1v3h-1zM900 317h1v3h-1zM900 323h1v3h-1zM900 329h1v3h-1zM900 335h1v3h-1zM900 341h1v3h-1zM900 347h1v3h-1zM900 353h1v3h-1zM900 359h1v3h-1zM900 365h1v3h-1zM900 371h1v3h-1zM900 377h1v3h-1zM900 383h1v3h-1zM900 389h1v3h-1zM900 395h1v3h-1zM900 401h1v3h-1zM900 407h1v3h-1zM900 413h1v3h-1zM900 419h1v3h-1zM900 425h1v3h-1zM900 431h1v3h-1zM900 437h1v3h-1zM900 443h1v3h-1zM900 449h1v3h-1zM900 455h1v3h-1zM900 461h1v3h-1zM900 467h1v3h-1zM900 473h1v3h-1zM900 479h1v3h-1zM900 485h1v3h-1zM900 491h1v3h-1zM900 497h1v3h-1zM900 503h1v3h-1zM900 509h1v3h-1zM900 515h1v3h-1zM900 521h1v3h-1zM900 527h1v3h-1zM900 533h1v3h-1zM900 539h1v3h-1zM900 545h1v3h-1zM900 551h1v3h-1zM900 557h1v3h-1zM900 563h1v3h-1zM900 569h1v3h-1zM900 575h1v3h-1zM900 581h1v3h-1zM900 587h1v3h-1zM900 593h1v3h-1zM900 599h1v3h-1zM900 605h1v3h-1zM900 611h1v3h-1zM900 617h1v3h-1zM900 623h1v3h-1zM900 629h1v3h-1zM900 635h1v3h-1zM900 641h1v3h-1zM900 647h1v3h-1zM900 653h1v3h-1zM900 659h1v3h-1zM900 665h1v3h-1zM900 671h1v3h-1zM900 677h1v3h-1zM900 683h1v3h-1zM900 689h1v3h-1zM900 695h1v3h-1zM900 701h1v3h-1zM900 707h1v3h-1zM900 713h1v3h-1zM900 719h1v3h-1zM900 725h1v3h-1zM900 731h1v3h-1zM900 737h1v3h-1zM900 743h1v3h-1zM900 749h1v3h-1zM900 755h1v3h-1zM900 761h1v3h-1zM900 767h1v3h-1zM900 773h1v3h-1zM900 779h1v3h-1zM900 785h1v3h-1zM900 791h1v3h-1zM964 5h1v3h-1zM964 11h1v3h-1zM964 17h1v3h-1zM964 23h1v3h-1zM964 29h1v3h-1zM964 35h1v3h-1zM964 41h1v3h-1zM964 47h1v3h-1zM964 53h1v3h-1zM964 59h1v3h-1zM964 65h1v3h-1zM964 71h1v3h-1zM964 77h1v3h-1zM964 83h1v3h-1zM964 89h1v3h-1zM964 95h1v3h-1zM964 101h1v3h-1zM964 107h1v3h-1zM964 113h1v3h-1zM964 119h1v3h-1zM964 125h1v3h-1zM964 131h1v3h-1zM964 137h1v3h-1zM964 143h1v3h-1zM964 149h1v3h-1zM964 155h1v3h-1zM964 161h1v3h-1zM964 167h1v3h-1zM964 173h1v3h-1zM964 179h1v3h-1zM964 185h1v3h-1zM964 191h1v3h-1zM964 197h1v3h-1zM964 203h1v3h-1zM964 209h1v3h-1zM964 215h1v3h-1zM964 221h1v3h-1zM964 227h1v3h-1zM964 233h1v3h-1zM964 239h1v3h-1zM964 245h1v3h-1zM964 251h1v3h-1zM964 257h1v3h-1zM964 263h1v3h-1zM964 269h1v3h-1zM964 275h1v3h-1zM964 281h1v3h-1zM964 287h1v3h-1zM964 293h1v3h-1zM964 299h1v3h-1zM964 305h1v3h-1zM964 311h1v3h-1zM964 317h1v3h-1zM964 323h1v3h-1zM964 329h1v3h-1zM964 335h1v3h-1zM964 341h1v3h-1zM964 347h1v3h-1zM964 353h1v3h-1zM964 359h1v3h-1zM964 365h1v3h-1zM964 371h1v3h-1zM964 377h1v3h-1zM964 383h1v3h-1zM964 389h1v3h-1zM964 395h1v3h-1zM964 401h1v3h-1zM964 407h1v3h-1zM964 413h1v3h-1zM964 419h1v3h-1zM964 425h1v3h-1zM964 431h1v3h-1zM964 437h1v3h-1zM964 443h1v3h-1zM964 449h1v3h-1zM964 455h1v3h-1zM964 461h1v3h-1zM964 467h1v3h-1zM964 473h1v3h-1zM964 479h1v3h-1zM964 485h1v3h-1zM964 491h1v3h-1zM964 497h1v3h-1zM964 503h1v3h-1zM964 509h1v3h-1zM964 515h1v3h-1zM964 521h1v3h-1zM964 527h1v3h-1zM964 533h1v3h-1zM964 539h1v3h-1zM964 545h1v3h-1zM964 551h1v3h-1zM964 557h1v3h-1zM964 563h1v3h-1zM964 569h1v3h-1zM964 575h1v3h-1zM964 581h1v3h-1zM964 587h1v3h-1zM964 593h1v3h-1zM964 599h1v3h-1zM964 605h1v3h-1zM964 611h1v3h-1zM964 617h1v3h-1zM964 623h1v3h-1zM964 629h1v3h-1zM964 635h1v3h-1zM964 641h1v3h-1zM964 647h1v3h-1zM964 653h1v3h-1zM964 659h1v3h-1zM964 665h1v3h-1zM964 671h1v3h-1zM964 677h1v3h-1zM964 683h1v3h-1zM964 689h1v3h-1zM964 695h1v3h-1zM964 701h1v3h-1zM964 707h1v3h-1zM964 713h1v3h-1zM964 719h1v3h-1zM964 725h1v3h-1zM964 731h1v3h-1zM964 737h1v3h-1zM964 743h1v3h-1zM964 749h1v3h-1zM964 755h1v3h-1zM964 761h1v3h-1zM964 767h1v3h-1zM964 773h1v3h-1zM964 779h1v3h-1zM964 785h1v3h-1zM964 791h1v3h-1zM1028 5h1v3h-1zM1028 11h1v3h-1zM1028 17h1v3h-1zM1028 23h1v3h-1zM1028 29h1v3h-1zM1028 35h1v3h-1zM1028 41h1v3h-1zM1028 47h1v3h-1zM1028 53h1v3h-1zM1028 59h1v3h-1zM1028 65h1v3h-1zM1028 71h1v3h-1zM1028 77h1v3h-1zM1028 83h1v3h-1zM1028 89h1v3h-1zM1028 95h1v3h-1zM1028 101h1v3h-1zM1028 107h1v3h-1zM1028 113h1v3h-1zM1028 119h1v3h-1zM1028 125h1v3h-1zM1028 131h1v3h-1zM1028 137h1v3h-1zM1028 143h1v3h-1zM1028 149h1v3h-1zM1028 155h1v3h-1zM1028 161h1v3h-1zM1028 167h1v3h-1zM1028 173h1v3h-1zM1028 179h1v3h-1zM1028 185h1v3h-1zM1028 191h1v3h-1zM1028 197h1v3h-1zM1028 203h1v3h-1zM1028 209h1v3h-1zM1028 215h1v3h-1zM1028 221h1v3h-1zM1028 227h1v3h-1zM1028 233h1v3h-1zM1028 239h1v3h-1zM1028 245h1v3h-1zM1028 251h1v3h-1zM1028 257h1v3h-1zM1028 263h1v3h-1zM1028 269h1v3h-1zM1028 275h1v3h-1zM1028 281h1v3h-1zM1028 287h1v3h-1zM1028 293h1v3h-1zM1028 299h1v3h-1zM1028 305h1v3h-1zM1028 311h1v3h-1zM1028 317h1v3h-1zM1028 323h1v3h-1zM1028 329h1v3h-1zM1028 335h1v3h-1zM1028 341h1v3h-1zM1028 347h1v3h-1zM1028 353h1v3h-1zM1028 359h1v3h-1zM1028 365h1v3h-1zM1028 371h1v3h-1zM1028 377h1v3h-1zM1028 383h1v3h-1zM1028 389h1v3h-1zM1028 395h1v3h-1zM1028 401h1v3h-1zM1028 407h1v3h-1zM1028 413h1v3h-1zM1028 419h1v3h-1zM1028 425h1v3h-1zM1028 431h1v3h-1zM1028 437h1v3h-1zM1028 443h1v3h-1zM1028 449h1v3h-1zM1028 455h1v3h-1zM1028 461h1v3h-1zM1028 467h1v3h-1zM1028 473h1v3h-1zM1028 479h1v3h-1zM1028 485h1v3h-1zM1028 491h1v3h-1zM1028 497h1v3h-1zM1028 503h1v3h-1zM1028 509h1v3h-1zM1028 515h1v3h-1zM1028 521h1v3h-1zM1028 527h1v3h-1zM1028 533h1v3h-1zM1028 539h1v3h-1zM1028 545h1v3h-1zM1028 551h1v3h-1zM1028 557h1v3h-1zM1028 563h1v3h-1zM1028 569h1v3h-1zM1028 575h1v3h-1zM1028 581h1v3h-1zM1028 587h1v3h-1zM1028 593h1v3h-1zM1028 599h1v3h-1zM1028 605h1v3h-1zM1028 611h1v3h-1zM1028 617h1v3h-1zM1028 623h1v3h-1zM1028 629h1v3h-1zM1028 635h1v3h-1zM1028 641h1v3h-1zM1028 647h1v3h-1zM1028 653h1v3h-1zM1028 659h1v3h-1zM1028 665h1v3h-1zM1028 671h1v3h-1zM1028 677h1v3h-1zM1028 683h1v3h-1zM1028 689h1v3h-1zM1028 695h1v3h-1zM1028 701h1v3h-1zM1028 707h1v3h-1zM1028 713h1v3h-1zM1028 719h1v3h-1zM1028 725h1v3h-1zM1028 731h1v3h-1zM1028 737h1v3h-1zM1028 743h1v3h-1zM1028 749h1v3h-1zM1028 755h1v3h-1zM1028 761h1v3h-1zM1028 767h1v3h-1zM1028 773h1v3h-1zM1028 779h1v3h-1zM1028 785h1v3h-1zM1028 791h1v3h-1zM1092 5h1v3h-1zM1092 11h1v3h-1zM1092 17h1v3h-1zM1092 23h1v3h-1zM1092 29h1v3h-1zM1092 35h1v3h-1zM1092 41h1v3h-1zM1092 47h1v3h-1zM1092 53h1v3h-1zM1092 59h1v3h-1zM1092 65h1v3h-1zM1092 71h1v3h-1zM1092 77h1v3h-1zM1092 83h1v3h-1zM1092 89h1v3h-1zM1092 95h1v3h-1zM1092 101h1v3h-1zM1092 107h1v3h-1zM1092 113h1v3h-1zM1092 119h1v3h-1zM1092 125h1v3h-1zM1092 131h1v3h-1zM1092 137h1v3h-1zM1092 143h1v3h-1zM1092 149h1v3h-1zM1092 155h1v3h-1zM1092 161h1v3h-1zM1092 167h1v3h-1zM1092 173h1v3h-1zM1092 179h1v3h-1zM1092 185h1v3h-1zM1092 191h1v3h-1zM1092 197h1v3h-1zM1092 203h1v3h-1zM1092 209h1v3h-1zM1092 215h1v3h-1zM1092 221h1v3h-1zM1092 227h1v3h-1zM1092 233h1v3h-1zM1092 239h1v3h-1zM1092 245h1v3h-1zM1092 251h1v3h-1zM1092 257h1v3h-1zM1092 263h1v3h-1zM1092 269h1v3h-1zM1092 275h1v3h-1zM1092 281h1v3h-1zM1092 287h1v3h-1zM1092 293h1v3h-1zM1092 299h1v3h-1zM1092 305h1v3h-1zM1092 311h1v3h-1zM1092 317h1v3h-1zM1092 323h1v3h-1zM1092 329h1v3h-1zM1092 335h1v3h-1zM1092 341h1v3h-1zM1092 347h1v3h-1zM1092 353h1v3h-1zM1092 359h1v3h-1zM1092 365h1v3h-1zM1092 371h1v3h-1zM1092 377h1v3h-1zM1092 383h1v3h-1zM1092 389h1v3h-1zM1092 395h1v3h-1zM1092 401h1v3h-1zM1092 407h1v3h-1zM1092 413h1v3h-1zM1092 419h1v3h-1zM1092 425h1v3h-1zM1092 431h1v3h-1zM1092 437h1v3h-1zM1092 443h1v3h-1zM1092 449h1v3h-1zM1092 455h1v3h-1zM1092 461h1v3h-1zM1092 467h1v3h-1zM1092 473h1v3h-1zM1092 479h1v3h-1zM1092 485h1v3h-1zM1092 491h1v3h-1zM1092 497h1v3h-1zM1092 503h1v3h-1zM1092 509h1v3h-1zM1092 515h1v3h-1zM1092 521h1v3h-1zM1092 527h1v3h-1zM1092 533h1v3h-1zM1092 539h1v3h-1zM1092 545h1v3h-1zM1092 551h1v3h-1zM1092 557h1v3h-1zM1092 563h1v3h-1zM1092 569h1v3h-1zM1092 575h1v3h-1zM1092 581h1v3h-1zM1092 587h1v3h-1zM1092 593h1v3h-1zM1092 599h1v3h-1zM1092 605h1v3h-1zM1092 611h1v3h-1zM1092 617h1v3h-1zM1092 623h1v3h-1zM1092 629h1v3h-1zM1092 635h1v3h-1zM1092 641h1v3h-1zM1092 647h1v3h-1zM1092 653h1v3h-1zM1092 659h1v3h-1zM1092 665h1v3h-1zM1092 671h1v3h-1zM1092 677h1v3h-1zM1092 683h1v3h-1zM1092 689h1v3h-1zM1092 695h1v3h-1zM1092 701h1v3h-1zM1092 707h1v3h-1zM1092 713h1v3h-1zM1092 719h1v3h-1zM1092 725h1v3h-1zM1092 731h1v3h-1zM1092 737h1v3h-1zM1092 743h1v3h-1zM1092 749h1v3h-1zM1092 755h1v3h-1zM1092 761h1v3h-1zM1092 767h1v3h-1zM1092 773h1v3h-1zM1092 779h1v3h-1zM1092 785h1v3h-1zM1092 791h1v3h-1zM1156 5h1v3h-1zM1156 11h1v3h-1zM1156 17h1v3h-1zM1156 23h1v3h-1zM1156 29h1v3h-1zM1156 35h1v3h-1zM1156 41h1v3h-1zM1156 47h1v3h-1zM1156 53h1v3h-1zM1156 59h1v3h-1zM1156 65h1v3h-1zM1156 71h1v3h-1zM1156 77h1v3h-1zM1156 83h1v3h-1zM1156 89h1v3h-1zM1156 95h1v3h-1zM1156 101h1v3h-1zM1156 107h1v3h-1zM1156 113h1v3h-1zM1156 119h1v3h-1zM1156 125h1v3h-1zM1156 131h1v3h-1zM1156 137h1v3h-1zM1156 143h1v3h-1zM1156 149h1v3h-1zM1156 155h1v3h-1zM1156 161h1v3h-1zM1156 167h1v3h-1zM1156 173h1v3h-1zM1156 179h1v3h-1zM1156 185h1v3h-1zM1156 191h1v3h-1zM1156 197h1v3h-1zM1156 203h1v3h-1zM1156 209h1v3h-1zM1156 215h1v3h-1zM1156 221h1v3h-1zM1156 227h1v3h-1zM1156 233h1v3h-1zM1156 239h1v3h-1zM1156 245h1v3h-1zM1156 251h1v3h-1zM1156 257h1v3h-1zM1156 263h1v3h-1zM1156 269h1v3h-1zM1156 275h1v3h-1zM1156 281h1v3h-1zM1156 287h1v3h-1zM1156 293h1v3h-1zM1156 299h1v3h-1zM1156 305h1v3h-1zM1156 311h1v3h-1zM1156 317h1v3h-1zM1156 323h1v3h-1zM1156 329h1v3h-1zM1156 335h1v3h-1zM1156 341h1v3h-1zM1156 347h1v3h-1zM1156 353h1v3h-1zM1156 359h1v3h-1zM1156 365h1v3h-1zM1156 371h1v3h-1zM1156 377h1v3h-1zM1156 383h1v3h-1zM1156 389h1v3h-1zM1156 395h1v3h-1zM1156 401h1v3h-1zM1156 407h1v3h-1zM1156 413h1v3h-1zM1156 419h1v3h-1zM1156 425h1v3h-1zM1156 431h1v3h-1zM1156 437h1v3h-1zM1156 443h1v3h-1zM1156 449h1v3h-1zM1156 455h1v3h-1zM1156 461h1v3h-1zM1156 467h1v3h-1zM1156 473h1v3h-1zM1156 479h1v3h-1zM1156 485h1v3h-1zM1156 491h1v3h-1zM1156 497h1v3h-1zM1156 503h1v3h-1zM1156 509h1v3h-1zM1156 515h1v3h-1zM1156 521h1v3h-1zM1156 527h1v3h-1zM1156 533h1v3h-1zM1156 539h1v3h-1zM1156 545h1v3h-1zM1156 551h1v3h-1zM1156 557h1v3h-1zM1156 563h1v3h-1zM1156 569h1v3h-1zM1156 575h1v3h-1zM1156 581h1v3h-1zM1156 587h1v3h-1zM1156 593h1v3h-1zM1156 599h1v3h-1zM1156 605h1v3h-1zM1156 611h1v3h-1zM1156 617h1v3h-1zM1156 623h1v3h-1zM1156 629h1v3h-1zM1156 635h1v3h-1zM1156 641h1v3h-1zM1156 647h1v3h-1zM1156 653h1v3h-1zM1156 659h1v3h-1zM1156 665h1v3h-1zM1156 671h1v3h-1zM1156 677h1v3h-1zM1156 683h1v3h-1zM1156 689h1v3h-1zM1156 695h1v3h-1zM1156 701h1v3h-1zM1156 707h1v3h-1zM1156 713h1v3h-1zM1156 719h1v3h-1zM1156 725h1v3h-1zM1156 731h1v3h-1zM1156 737h1v3h-1zM1156 743h1v3h-1zM1156 749h1v3h-1zM1156 755h1v3h-1zM1156 761h1v3h-1zM1156 767h1v3h-1zM1156 773h1v3h-1zM1156 779h1v3h-1zM1156 785h1v3h-1zM1156 791h1v3h-1zM1220 5h1v3h-1zM1220 11h1v3h-1zM1220 17h1v3h-1zM1220 23h1v3h-1zM1220 29h1v3h-1zM1220 35h1v3h-1zM1220 41h1v3h-1zM1220 47h1v3h-1zM1220 53h1v3h-1zM1220 59h1v3h-1zM1220 65h1v3h-1zM1220 71h1v3h-1zM1220 77h1v3h-1zM1220 83h1v3h-1zM1220 89h1v3h-1zM1220 95h1v3h-1zM1220 101h1v3h-1zM1220 107h1v3h-1zM1220 113h1v3h-1zM1220 119h1v3h-1zM1220 125h1v3h-1zM1220 131h1v3h-1zM1220 137h1v3h-1zM1220 143h1v3h-1zM1220 149h1v3h-1zM1220 155h1v3h-1zM1220 161h1v3h-1zM1220 167h1v3h-1zM1220 173h1v3h-1zM1220 179h1v3h-1zM1220 185h1v3h-1zM1220 191h1v3h-1zM1220 197h1v3h-1zM1220 203h1v3h-1zM1220 209h1v3h-1zM1220 215h1v3h-1zM1220 221h1v3h-1zM1220 227h1v3h-1zM1220 233h1v3h-1zM1220 239h1v3h-1zM1220 245h1v3h-1zM1220 251h1v3h-1zM1220 257h1v3h-1zM1220 263h1v3h-1zM1220 269h1v3h-1zM1220 275h1v3h-1zM1220 281h1v3h-1zM1220 287h1v3h-1zM1220 293h1v3h-1zM1220 299h1v3h-1zM1220 305h1v3h-1zM1220 311h1v3h-1zM1220 317h1v3h-1zM1220 323h1v3h-1zM1220 329h1v3h-1zM1220 335h1v3h-1zM1220 341h1v3h-1zM1220 347h1v3h-1zM1220 353h1v3h-1zM1220 359h1v3h-1zM1220 365h1v3h-1zM1220 371h1v3h-1zM1220 377h1v3h-1zM1220 383h1v3h-1zM1220 389h1v3h-1zM1220 395h1v3h-1zM1220 401h1v3h-1zM1220 407h1v3h-1zM1220 413h1v3h-1zM1220 419h1v3h-1zM1220 425h1v3h-1zM1220 431h1v3h-1zM1220 437h1v3h-1zM1220 443h1v3h-1zM1220 449h1v3h-1zM1220 455h1v3h-1zM1220 461h1v3h-1zM1220 467h1v3h-1zM1220 473h1v3h-1zM1220 479h1v3h-1zM1220 485h1v3h-1zM1220 491h1v3h-1zM1220 497h1v3h-1zM1220 503h1v3h-1zM1220 509h1v3h-1zM1220 515h1v3h-1zM1220 521h1v3h-1zM1220 527h1v3h-1zM1220 533h1v3h-1zM1220 539h1v3h-1zM1220 545h1v3h-1zM1220 551h1v3h-1zM1220 557h1v3h-1zM1220 563h1v3h-1zM1220 569h1v3h-1zM1220 575h1v3h-1zM1220 581h1v3h-1zM1220 587h1v3h-1zM1220 593h1v3h-1zM1220 599h1v3h-1zM1220 605h1v3h-1zM1220 611h1v3h-1zM1220 617h1v3h-1zM1220 623h1v3h-1zM1220 629h1v3h-1zM1220 635h1v3h-1zM1220 641h1v3h-1zM1220 647h1v3h-1zM1220 653h1v3h-1zM1220 659h1v3h-1zM1220 665h1v3h-1zM1220 671h1v3h-1zM1220 677h1v3h-1zM1220 683h1v3h-1zM1220 689h1v3h-1zM1220 695h1v3h-1zM1220 701h1v3h-1zM1220 707h1v3h-1zM1220 713h1v3h-1zM1220 719h1v3h-1zM1220 725h1v3h-1zM1220 731h1v3h-1zM1220 737h1v3h-1zM1220 743h1v3h-1zM1220 749h1v3h-1zM1220 755h1v3h-1zM1220 761h1v3h-1zM1220 767h1v3h-1zM1220 773h1v3h-1zM1220 779h1v3h-1zM1220 785h1v3h-1zM1220 791h1v3h-1zM1284 5h1v3h-1zM1284 11h1v3h-1zM1284 17h1v3h-1zM1284 23h1v3h-1zM1284 29h1v3h-1zM1284 35h1v3h-1zM1284 41h1v3h-1zM1284 47h1v3h-1zM1284 53h1v3h-1zM1284 59h1v3h-1zM1284 65h1v3h-1zM1284 71h1v3h-1zM1284 77h1v3h-1zM1284 83h1v3h-1zM1284 89h1v3h-1zM1284 95h1v3h-1zM1284 101h1v3h-1zM1284 107h1v3h-1zM1284 113h1v3h-1zM1284 119h1v3h-1zM1284 125h1v3h-1zM1284 131h1v3h-1zM1284 137h1v3h-1zM1284 143h1v3h-1zM1284 149h1v3h-1zM1284 155h1v3h-1zM1284 161h1v3h-1zM1284 167h1v3h-1zM1284 173h1v3h-1zM1284 179h1v3h-1zM1284 185h1v3h-1zM1284 191h1v3h-1zM1284 197h1v3h-1zM1284 203h1v3h-1zM1284 209h1v3h-1zM1284 215h1v3h-1zM1284 221h1v3h-1zM1284 227h1v3h-1zM1284 233h1v3h-1zM1284 239h1v3h-1zM1284 245h1v3h-1zM1284 251h1v3h-1zM1284 257h1v3h-1zM1284 263h1v3h-1zM1284 269h1v3h-1zM1284 275h1v3h-1zM1284 281h1v3h-1zM1284 287h1v3h-1zM1284 293h1v3h-1zM1284 299h1v3h-1zM1284 305h1v3h-1zM1284 311h1v3h-1zM1284 317h1v3h-1zM1284 323h1v3h-1zM1284 329h1v3h-1zM1284 335h1v3h-1zM1284 341h1v3h-1zM1284 347h1v3h-1zM1284 353h1v3h-1zM1284 359h1v3h-1zM1284 365h1v3h-1zM1284 371h1v3h-1zM1284 377h1v3h-1zM1284 383h1v3h-1zM1284 389h1v3h-1zM1284 395h1v3h-1zM1284 401h1v3h-1zM1284 407h1v3h-1zM1284 413h1v3h-1zM1284 419h1v3h-1zM1284 425h1v3h-1zM1284 431h1v3h-1zM1284 437h1v3h-1zM1284 443h1v3h-1zM1284 449h1v3h-1zM1284 455h1v3h-1zM1284 461h1v3h-1zM1284 467h1v3h-1zM1284 473h1v3h-1zM1284 479h1v3h-1zM1284 485h1v3h-1zM1284 491h1v3h-1zM1284 497h1v3h-1zM1284 503h1v3h-1zM1284 509h1v3h-1zM1284 515h1v3h-1zM1284 521h1v3h-1zM1284 527h1v3h-1zM1284 533h1v3h-1zM1284 539h1v3h-1zM1284 545h1v3h-1zM1284 551h1v3h-1zM1284 557h1v3h-1zM1284 563h1v3h-1zM1284 569h1v3h-1zM1284 575h1v3h-1zM1284 581h1v3h-1zM1284 587h1v3h-1zM1284 593h1v3h-1zM1284 599h1v3h-1zM1284 605h1v3h-1zM1284 611h1v3h-1zM1284 617h1v3h-1zM1284 623h1v3h-1zM1284 629h1v3h-1zM1284 635h1v3h-1zM1284 641h1v3h-1zM1284 647h1v3h-1zM1284 653h1v3h-1zM1284 659h1v3h-1zM1284 665h1v3h-1zM1284 671h1v3h-1zM1284 677h1v3h-1zM1284 683h1v3h-1zM1284 689h1v3h-1zM1284 695h1v3h-1zM1284 701h1v3h-1zM1284 707h1v3h-1zM1284 713h1v3h-1zM1284 719h1v3h-1zM1284 725h1v3h-1zM1284 731h1v3h-1zM1284 737h1v3h-1zM1284 743h1v3h-1zM1284 749h1v3h-1zM1284 755h1v3h-1zM1284 761h1v3h-1zM1284 767h1v3h-1zM1284 773h1v3h-1zM1284 779h1v3h-1zM1284 785h1v3h-1zM1284 791h1v3h-1zM1348 5h1v3h-1zM1348 11h1v3h-1zM1348 17h1v3h-1zM1348 23h1v3h-1zM1348 29h1v3h-1zM1348 35h1v3h-1zM1348 41h1v3h-1zM1348 47h1v3h-1zM1348 53h1v3h-1zM1348 59h1v3h-1zM1348 65h1v3h-1zM1348 71h1v3h-1zM1348 77h1v3h-1zM1348 83h1v3h-1zM1348 89h1v3h-1zM1348 95h1v3h-1zM1348 101h1v3h-1zM1348 107h1v3h-1zM1348 113h1v3h-1zM1348 119h1v3h-1zM1348 125h1v3h-1zM1348 131h1v3h-1zM1348 137h1v3h-1zM1348 143h1v3h-1zM1348 149h1v3h-1zM1348 155h1v3h-1zM1348 161h1v3h-1zM1348 167h1v3h-1zM1348 173h1v3h-1zM1348 179h1v3h-1zM1348 185h1v3h-1zM1348 191h1v3h-1zM1348 197h1v3h-1zM1348 203h1v3h-1zM1348 209h1v3h-1zM1348 215h1v3h-1zM1348 221h1v3h-1zM1348 227h1v3h-1zM1348 233h1v3h-1zM1348 239h1v3h-1zM1348 245h1v3h-1zM1348 251h1v3h-1zM1348 257h1v3h-1zM1348 263h1v3h-1zM1348 269h1v3h-1zM1348 275h1v3h-1zM1348 281h1v3h-1zM1348 287h1v3h-1zM1348 293h1v3h-1zM1348 299h1v3h-1zM1348 305h1v3h-1zM1348 311h1v3h-1zM1348 317h1v3h-1zM1348 323h1v3h-1zM1348 329h1v3h-1zM1348 335h1v3h-1zM1348 341h1v3h-1zM1348 347h1v3h-1zM1348 353h1v3h-1zM1348 359h1v3h-1zM1348 365h1v3h-1zM1348 371h1v3h-1zM1348 377h1v3h-1zM1348 383h1v3h-1zM1348 389h1v3h-1zM1348 395h1v3h-1zM1348 401h1v3h-1zM1348 407h1v3h-1zM1348 413h1v3h-1zM1348 419h1v3h-1zM1348 425h1v3h-1zM1348 431h1v3h-1zM1348 437h1v3h-1zM1348 443h1v3h-1zM1348 449h1v3h-1zM1348 455h1v3h-1zM1348 461h1v3h-1zM1348 467h1v3h-1zM1348 473h1v3h-1zM1348 479h1v3h-1zM1348 485h1v3h-1zM1348 491h1v3h-1zM1348 497h1v3h-1zM1348 503h1v3h-1zM1348 509h1v3h-1zM1348 515h1v3h-1zM1348 521h1v3h-1zM1348 527h1v3h-1zM1348 533h1v3h-1zM1348 539h1v3h-1zM1348 545h1v3h-1zM1348 551h1v3h-1zM1348 557h1v3h-1zM1348 563h1v3h-1zM1348 569h1v3h-1zM1348 575h1v3h-1zM1348 581h1v3h-1zM1348 587h1v3h-1zM1348 593h1v3h-1zM1348 599h1v3h-1zM1348 605h1v3h-1zM1348 611h1v3h-1zM1348 617h1v3h-1zM1348 623h1v3h-1zM1348 629h1v3h-1zM1348 635h1v3h-1zM1348 641h1v3h-1zM1348 647h1v3h-1zM1348 653h1v3h-1zM1348 659h1v3h-1zM1348 665h1v3h-1zM1348 671h1v3h-1zM1348 677h1v3h-1zM1348 683h1v3h-1zM1348 689h1v3h-1zM1348 695h1v3h-1zM1348 701h1v3h-1zM1348 707h1v3h-1zM1348 713h1v3h-1zM1348 719h1v3h-1zM1348 725h1v3h-1zM1348 731h1v3h-1zM1348 737h1v3h-1zM1348 743h1v3h-1zM1348 749h1v3h-1zM1348 755h1v3h-1zM1348 761h1v3h-1zM1348 767h1v3h-1zM1348 773h1v3h-1zM1348 779h1v3h-1zM1348 785h1v3h-1zM1348 791h1v3h-1zM1412 5h1v3h-1zM1412 11h1v3h-1zM1412 17h1v3h-1zM1412 23h1v3h-1zM1412 29h1v3h-1zM1412 35h1v3h-1zM1412 41h1v3h-1zM1412 47h1v3h-1zM1412 53h1v3h-1zM1412 59h1v3h-1zM1412 65h1v3h-1zM1412 71h1v3h-1zM1412 77h1v3h-1zM1412 83h1v3h-1zM1412 89h1v3h-1zM1412 95h1v3h-1zM1412 101h1v3h-1zM1412 107h1v3h-1zM1412 113h1v3h-1zM1412 119h1v3h-1zM1412 125h1v3h-1zM1412 131h1v3h-1zM1412 137h1v3h-1zM1412 143h1v3h-1zM1412 149h1v3h-1zM1412 155h1v3h-1zM1412 161h1v3h-1zM1412 167h1v3h-1zM1412 173h1v3h-1zM1412 179h1v3h-1zM1412 185h1v3h-1zM1412 191h1v3h-1zM1412 197h1v3h-1zM1412 203h1v3h-1zM1412 209h1v3h-1zM1412 215h1v3h-1zM1412 221h1v3h-1zM1412 227h1v3h-1zM1412 233h1v3h-1zM1412 239h1v3h-1zM1412 245h1v3h-1zM1412 251h1v3h-1zM1412 257h1v3h-1zM1412 263h1v3h-1zM1412 269h1v3h-1zM1412 275h1v3h-1zM1412 281h1v3h-1zM1412 287h1v3h-1zM1412 293h1v3h-1zM1412 299h1v3h-1zM1412 305h1v3h-1zM1412 311h1v3h-1zM1412 317h1v3h-1zM1412 323h1v3h-1zM1412 329h1v3h-1zM1412 335h1v3h-1zM1412 341h1v3h-1zM1412 347h1v3h-1zM1412 353h1v3h-1zM1412 359h1v3h-1zM1412 365h1v3h-1zM1412 371h1v3h-1zM1412 377h1v3h-1zM1412 383h1v3h-1zM1412 389h1v3h-1zM1412 395h1v3h-1zM1412 401h1v3h-1zM1412 407h1v3h-1zM1412 413h1v3h-1zM1412 419h1v3h-1zM1412 425h1v3h-1zM1412 431h1v3h-1zM1412 437h1v3h-1zM1412 443h1v3h-1zM1412 449h1v3h-1zM1412 455h1v3h-1zM1412 461h1v3h-1zM1412 467h1v3h-1zM1412 473h1v3h-1zM1412 479h1v3h-1zM1412 485h1v3h-1zM1412 491h1v3h-1zM1412 497h1v3h-1zM1412 503h1v3h-1zM1412 509h1v3h-1zM1412 515h1v3h-1zM1412 521h1v3h-1zM1412 527h1v3h-1zM1412 533h1v3h-1zM1412 539h1v3h-1zM1412 545h1v3h-1zM1412 551h1v3h-1zM1412 557h1v3h-1zM1412 563h1v3h-1zM1412 569h1v3h-1zM1412 575h1v3h-1zM1412 581h1v3h-1zM1412 587h1v3h-1zM1412 593h1v3h-1zM1412 599h1v3h-1zM1412 605h1v3h-1zM1412 611h1v3h-1zM1412 617h1v3h-1zM1412 623h1v3h-1zM1412 629h1v3h-1zM1412 635h1v3h-1zM1412 641h1v3h-1zM1412 647h1v3h-1zM1412 653h1v3h-1zM1412 659h1v3h-1zM1412 665h1v3h-1zM1412 671h1v3h-1zM1412 677h1v3h-1zM1412 683h1v3h-1zM1412 689h1v3h-1zM1412 695h1v3h-1zM1412 701h1v3h-1zM1412 707h1v3h-1zM1412 713h1v3h-1zM1412 719h1v3h-1zM1412 725h1v3h-1zM1412 731h1v3h-1zM1412 737h1v3h-1zM1412 743h1v3h-1zM1412 749h1v3h-1zM1412 755h1v3h-1zM1412 761h1v3h-1zM1412 767h1v3h-1zM1412 773h1v3h-1zM1412 779h1v3h-1zM1412 785h1v3h-1zM1412 791h1v3h-1zM1476 5h1v3h-1zM1476 11h1v3h-1zM1476 17h1v3h-1zM1476 23h1v3h-1zM1476 29h1v3h-1zM1476 35h1v3h-1zM1476 41h1v3h-1zM1476 47h1v3h-1zM1476 53h1v3h-1zM1476 59h1v3h-1zM1476 65h1v3h-1zM1476 71h1v3h-1zM1476 77h1v3h-1zM1476 83h1v3h-1zM1476 89h1v3h-1zM1476 95h1v3h-1zM1476 101h1v3h-1zM1476 107h1v3h-1zM1476 113h1v3h-1zM1476 119h1v3h-1zM1476 125h1v3h-1zM1476 131h1v3h-1zM1476 137h1v3h-1zM1476 143h1v3h-1zM1476 149h1v3h-1zM1476 155h1v3h-1zM1476 161h1v3h-1zM1476 167h1v3h-1zM1476 173h1v3h-1zM1476 179h1v3h-1zM1476 185h1v3h-1zM1476 191h1v3h-1zM1476 197h1v3h-1zM1476 203h1v3h-1zM1476 209h1v3h-1zM1476 215h1v3h-1zM1476 221h1v3h-1zM1476 227h1v3h-1zM1476 233h1v3h-1zM1476 239h1v3h-1zM1476 245h1v3h-1zM1476 251h1v3h-1zM1476 257h1v3h-1zM1476 263h1v3h-1zM1476 269h1v3h-1zM1476 275h1v3h-1zM1476 281h1v3h-1zM1476 287h1v3h-1zM1476 293h1v3h-1zM1476 299h1v3h-1zM1476 305h1v3h-1zM1476 311h1v3h-1zM1476 317h1v3h-1zM1476 323h1v3h-1zM1476 329h1v3h-1zM1476 335h1v3h-1zM1476 341h1v3h-1zM1476 347h1v3h-1zM1476 353h1v3h-1zM1476 359h1v3h-1zM1476 365h1v3h-1zM1476 371h1v3h-1zM1476 377h1v3h-1zM1476 383h1v3h-1zM1476 389h1v3h-1zM1476 395h1v3h-1zM1476 401h1v3h-1zM1476 407h1v3h-1zM1476 413h1v3h-1zM1476 419h1v3h-1zM1476 425h1v3h-1zM1476 431h1v3h-1zM1476 437h1v3h-1zM1476 443h1v3h-1zM1476 449h1v3h-1zM1476 455h1v3h-1zM1476 461h1v3h-1zM1476 467h1v3h-1zM1476 473h1v3h-1zM1476 479h1v3h-1zM1476 485h1v3h-1zM1476 491h1v3h-1zM1476 497h1v3h-1zM1476 503h1v3h-1zM1476 509h1v3h-1zM1476 515h1v3h-1zM1476 521h1v3h-1zM1476 527h1v3h-1zM1476 533h1v3h-1zM1476 539h1v3h-1zM1476 545h1v3h-1zM1476 551h1v3h-1zM1476 557h1v3h-1zM1476 563h1v3h-1zM1476 569h1v3h-1zM1476 575h1v3h-1zM1476 581h1v3h-1zM1476 587h1v3h-1zM1476 593h1v3h-1zM1476 599h1v3h-1zM1476 605h1v3h-1zM1476 611h1v3h-1zM1476 617h1v3h-1zM1476 623h1v3h-1zM1476 629h1v3h-1zM1476 635h1v3h-1zM1476 641h1v3h-1zM1476 647h1v3h-1zM1476 653h1v3h-1zM1476 659h1v3h-1zM1476 665h1v3h-1zM1476 671h1v3h-1zM1476 677h1v3h-1zM1476 683h1v3h-1zM1476 689h1v3h-1zM1476 695h1v3h-1zM1476 701h1v3h-1zM1476 707h1v3h-1zM1476 713h1v3h-1zM1476 719h1v3h-1zM1476 725h1v3h-1zM1476 731h1v3h-1zM1476 737h1v3h-1zM1476 743h1v3h-1zM1476 749h1v3h-1zM1476 755h1v3h-1zM1476 761h1v3h-1zM1476 767h1v3h-1zM1476 773h1v3h-1zM1476 779h1v3h-1zM1476 785h1v3h-1zM1476 791h1v3h-1zM5 67h3v1h-3zM11 67h3v1h-3zM17 67h3v1h-3zM23 67h3v1h-3zM29 67h3v1h-3zM35 67h3v1h-3zM41 67h3v1h-3zM47 67h3v1h-3zM53 67h3v1h-3zM59 67h3v1h-3zM65 67h3v1h-3zM71 67h3v1h-3zM77 67h3v1h-3zM83 67h3v1h-3zM89 67h3v1h-3zM95 67h3v1h-3zM101 67h3v1h-3zM107 67h3v1h-3zM113 67h3v1h-3zM119 67h3v1h-3zM125 67h3v1h-3zM131 67h3v1h-3zM137 67h3v1h-3zM143 67h3v1h-3zM149 67h3v1h-3zM155 67h3v1h-3zM161 67h3v1h-3zM167 67h3v1h-3zM173 67h3v1h-3zM179 67h3v1h-3zM185 67h3v1h-3zM191 67h3v1h-3zM197 67h3v1h-3zM203 67h3v1h-3zM209 67h3v1h-3zM215 67h3v1h-3zM221 67h3v1h-3zM227 67h3v1h-3zM233 67h3v1h-3zM239 67h3v1h-3zM245 67h3v1h-3zM251 67h3v1h-3zM257 67h3v1h-3zM263 67h3v1h-3zM269 67h3v1h-3zM275 67h3v1h-3zM281 67h3v1h-3zM287 67h3v1h-3zM293 67h3v1h-3zM299 67h3v1h-3zM305 67h3v1h-3zM311 67h3v1h-3zM317 67h3v1h-3zM323 67h3v1h-3zM329 67h3v1h-3zM335 67h3v1h-3zM341 67h3v1h-3zM347 67h3v1h-3zM353 67h3v1h-3zM359 67h3v1h-3zM365 67h3v1h-3zM371 67h3v1h-3zM377 67h3v1h-3zM383 67h3v1h-3zM389 67h3v1h-3zM395 67h3v1h-3zM401 67h3v1h-3zM407 67h3v1h-3zM413 67h3v1h-3zM419 67h3v1h-3zM425 67h3v1h-3zM431 67h3v1h-3zM437 67h3v1h-3zM443 67h3v1h-3zM449 67h3v1h-3zM455 67h3v1h-3zM461 67h3v1h-3zM467 67h3v1h-3zM473 67h3v1h-3zM479 67h3v1h-3zM485 67h3v1h-3zM491 67h3v1h-3zM497 67h3v1h-3zM503 67h3v1h-3zM509 67h3v1h-3zM515 67h3v1h-3zM521 67h3v1h-3zM527 67h3v1h-3zM533 67h3v1h-3zM539 67h3v1h-3zM545 67h3v1h-3zM551 67h3v1h-3zM557 67h3v1h-3zM563 67h3v1h-3zM569 67h3v1h-3zM575 67h3v1h-3zM581 67h3v1h-3zM587 67h3v1h-3zM593 67h3v1h-3zM599 67h3v1h-3zM605 67h3v1h-3zM611 67h3v1h-3zM617 67h3v1h-3zM623 67h3v1h-3zM629 67h3v1h-3zM635 67h3v1h-3zM641 67h3v1h-3zM647 67h3v1h-3zM653 67h3v1h-3zM659 67h3v1h-3zM665 67h3v1h-3zM671 67h3v1h-3zM677 67h3v1h-3zM683 67h3v1h-3zM689 67h3v1h-3zM695 67h3v1h-3zM701 67h3v1h-3zM707 67h3v1h-3zM713 67h3v1h-3zM719 67h3v1h-3zM725 67h3v1h-3zM731 67h3v1h-3zM737 67h3v1h-3zM743 67h3v1h-3zM749 67h3v1h-3zM755 67h3v1h-3zM761 67h3v1h-3zM767 67h3v1h-3zM773 67h3v1h-3zM779 67h3v1h-3zM785 67h3v1h-3zM791 67h3v1h-3zM797 67h3v1h-3zM803 67h3v1h-3zM809 67h3v1h-3zM815 67h3v1h-3zM821 67h3v1h-3zM827 67h3v1h-3zM833 67h3v1h-3zM839 67h3v1h-3zM845 67h3v1h-3zM851 67h3v1h-3zM857 67h3v1h-3zM863 67h3v1h-3zM869 67h3v1h-3zM875 67h3v1h-3zM881 67h3v1h-3zM887 67h3v1h-3zM893 67h3v1h-3zM899 67h3v1h-3zM905 67h3v1h-3zM911 67h3v1h-3zM917 67h3v1h-3zM923 67h3v1h-3zM929 67h3v1h-3zM935 67h3v1h-3zM941 67h3v1h-3zM947 67h3v1h-3zM953 67h3v1h-3zM959 67h3v1h-3zM965 67h3v1h-3zM971 67h3v1h-3zM977 67h3v1h-3zM983 67h3v1h-3zM989 67h3v1h-3zM995 67h3v1h-3zM1001 67h3v1h-3zM1007 67h3v1h-3zM1013 67h3v1h-3zM1019 67h3v1h-3zM1025 67h3v1h-3zM1031 67h3v1h-3zM1037 67h3v1h-3zM1043 67h3v1h-3zM1049 67h3v1h-3zM1055 67h3v1h-3zM1061 67h3v1h-3zM1067 67h3v1h-3zM1073 67h3v1h-3zM1079 67h3v1h-3zM1085 67h3v1h-3zM1091 67h3v1h-3zM1097 67h3v1h-3zM1103 67h3v1h-3zM1109 67h3v1h-3zM1115 67h3v1h-3zM1121 67h3v1h-3zM1127 67h3v1h-3zM1133 67h3v1h-3zM1139 67h3v1h-3zM1145 67h3v1h-3zM1151 67h3v1h-3zM1157 67h3v1h-3zM1163 67h3v1h-3zM1169 67h3v1h-3zM1175 67h3v1h-3zM1181 67h3v1h-3zM1187 67h3v1h-3zM1193 67h3v1h-3zM1199 67h3v1h-3zM1205 67h3v1h-3zM1211 67h3v1h-3zM1217 67h3v1h-3zM1223 67h3v1h-3zM1229 67h3v1h-3zM1235 67h3v1h-3zM1241 67h3v1h-3zM1247 67h3v1h-3zM1253 67h3v1h-3zM1259 67h3v1h-3zM1265 67h3v1h-3zM1271 67h3v1h-3zM1277 67h3v1h-3zM1283 67h3v1h-3zM1289 67h3v1h-3zM1295 67h3v1h-3zM1301 67h3v1h-3zM1307 67h3v1h-3zM1313 67h3v1h-3zM1319 67h3v1h-3zM1325 67h3v1h-3zM1331 67h3v1h-3zM1337 67h3v1h-3zM1343 67h3v1h-3zM1349 67h3v1h-3zM1355 67h3v1h-3zM1361 67h3v1h-3zM1367 67h3v1h-3zM1373 67h3v1h-3zM1379 67h3v1h-3zM1385 67h3v1h-3zM1391 67h3v1h-3zM1397 67h3v1h-3zM1403 67h3v1h-3zM1409 67h3v1h-3zM1415 67h3v1h-3zM1421 67h3v1h-3zM1427 67h3v1h-3zM1433 67h3v1h-3zM1439 67h3v1h-3zM1445 67h3v1h-3zM1451 67h3v1h-3zM1457 67h3v1h-3zM1463 67h3v1h-3zM1469 67h3v1h-3zM1475 67h3v1h-3zM1481 67h3v1h-3zM1487 67h3v1h-3zM1493 67h3v1h-3zM1499 67h3v1h-3zM1505 67h3v1h-3zM1511 67h3v1h-3zM1517 67h3v1h-3zM5 132h3v1h-3zM11 132h3v1h-3zM17 132h3v1h-3zM23 132h3v1h-3zM29 132h3v1h-3zM35 132h3v1h-3zM41 132h3v1h-3zM47 132h3v1h-3zM53 132h3v1h-3zM59 132h3v1h-3zM65 132h3v1h-3zM71 132h3v1h-3zM77 132h3v1h-3zM83 132h3v1h-3zM89 132h3v1h-3zM95 132h3v1h-3zM101 132h3v1h-3zM107 132h3v1h-3zM113 132h3v1h-3zM119 132h3v1h-3zM125 132h3v1h-3zM131 132h3v1h-3zM137 132h3v1h-3zM143 132h3v1h-3zM149 132h3v1h-3zM155 132h3v1h-3zM161 132h3v1h-3zM167 132h3v1h-3zM173 132h3v1h-3zM179 132h3v1h-3zM185 132h3v1h-3zM191 132h3v1h-3zM197 132h3v1h-3zM203 132h3v1h-3zM209 132h3v1h-3zM215 132h3v1h-3zM221 132h3v1h-3zM227 132h3v1h-3zM233 132h3v1h-3zM239 132h3v1h-3zM245 132h3v1h-3zM251 132h3v1h-3zM257 132h3v1h-3zM263 132h3v1h-3zM269 132h3v1h-3zM275 132h3v1h-3zM281 132h3v1h-3zM287 132h3v1h-3zM293 132h3v1h-3zM299 132h3v1h-3zM305 132h3v1h-3zM311 132h3v1h-3zM317 132h3v1h-3zM323 132h3v1h-3zM329 132h3v1h-3zM335 132h3v1h-3zM341 132h3v1h-3zM347 132h3v1h-3zM353 132h3v1h-3zM359 132h3v1h-3zM365 132h3v1h-3zM371 132h3v1h-3zM377 132h3v1h-3zM383 132h3v1h-3zM389 132h3v1h-3zM395 132h3v1h-3zM401 132h3v1h-3zM407 132h3v1h-3zM413 132h3v1h-3zM419 132h3v1h-3zM425 132h3v1h-3zM431 132h3v1h-3zM437 132h3v1h-3zM443 132h3v1h-3zM449 132h3v1h-3zM455 132h3v1h-3zM461 132h3v1h-3zM467 132h3v1h-3zM473 132h3v1h-3zM479 132h3v1h-3zM485 132h3v1h-3zM491 132h3v1h-3zM497 132h3v1h-3zM503 132h3v1h-3zM509 132h3v1h-3zM515 132h3v1h-3zM521 132h3v1h-3zM527 132h3v1h-3zM533 132h3v1h-3zM539 132h3v1h-3zM545 132h3v1h-3zM551 132h3v1h-3zM557 132h3v1h-3zM563 132h3v1h-3zM569 132h3v1h-3zM575 132h3v1h-3zM581 132h3v1h-3zM587 132h3v1h-3zM593 132h3v1h-3zM599 132h3v1h-3zM605 132h3v1h-3zM611 132h3v1h-3zM617 132h3v1h-3zM623 132h3v1h-3zM629 132h3v1h-3zM635 132h3v1h-3zM641 132h3v1h-3zM647 132h3v1h-3zM653 132h3v1h-3zM659 132h3v1h-3zM665 132h3v1h-3zM671 132h3v1h-3zM677 132h3v1h-3zM683 132h3v1h-3zM689 132h3v1h-3zM695 132h3v1h-3zM701 132h3v1h-3zM707 132h3v1h-3zM713 132h3v1h-3zM719 132h3v1h-3zM725 132h3v1h-3zM731 132h3v1h-3zM737 132h3v1h-3zM743 132h3v1h-3zM749 132h3v1h-3zM755 132h3v1h-3zM761 132h3v1h-3zM767 132h3v1h-3zM773 132h3v1h-3zM779 132h3v1h-3zM785 132h3v1h-3zM791 132h3v1h-3zM797 132h3v1h-3zM803 132h3v1h-3zM809 132h3v1h-3zM815 132h3v1h-3zM821 132h3v1h-3zM827 132h3v1h-3zM833 132h3v1h-3zM839 132h3v1h-3zM845 132h3v1h-3zM851 132h3v1h-3zM857 132h3v1h-3zM863 132h3v1h-3zM869 132h3v1h-3zM875 132h3v1h-3zM881 132h3v1h-3zM887 132h3v1h-3zM893 132h3v1h-3zM899 132h3v1h-3zM905 132h3v1h-3zM911 132h3v1h-3zM917 132h3v1h-3zM923 132h3v1h-3zM929 132h3v1h-3zM935 132h3v1h-3zM941 132h3v1h-3zM947 132h3v1h-3zM953 132h3v1h-3zM959 132h3v1h-3zM965 132h3v1h-3zM971 132h3v1h-3zM977 132h3v1h-3zM983 132h3v1h-3zM989 132h3v1h-3zM995 132h3v1h-3zM1001 132h3v1h-3zM1007 132h3v1h-3zM1013 132h3v1h-3zM1019 132h3v1h-3zM1025 132h3v1h-3zM1031 132h3v1h-3zM1037 132h3v1h-3zM1043 132h3v1h-3zM1049 132h3v1h-3zM1055 132h3v1h-3zM1061 132h3v1h-3zM1067 132h3v1h-3zM1073 132h3v1h-3zM1079 132h3v1h-3zM1085 132h3v1h-3zM1091 132h3v1h-3zM1097 132h3v1h-3zM1103 132h3v1h-3zM1109 132h3v1h-3zM1115 132h3v1h-3zM1121 132h3v1h-3zM1127 132h3v1h-3zM1133 132h3v1h-3zM1139 132h3v1h-3zM1145 132h3v1h-3zM1151 132h3v1h-3zM1157 132h3v1h-3zM1163 132h3v1h-3zM1169 132h3v1h-3zM1175 132h3v1h-3zM1181 132h3v1h-3zM1187 132h3v1h-3zM1193 132h3v1h-3zM1199 132h3v1h-3zM1205 132h3v1h-3zM1211 132h3v1h-3zM1217 132h3v1h-3zM1223 132h3v1h-3zM1229 132h3v1h-3zM1235 132h3v1h-3zM1241 132h3v1h-3zM1247 132h3v1h-3zM1253 132h3v1h-3zM1259 132h3v1h-3zM1265 132h3v1h-3zM1271 132h3v1h-3zM1277 132h3v1h-3zM1283 132h3v1h-3zM1289 132h3v1h-3zM1295 132h3v1h-3zM1301 132h3v1h-3zM1307 132h3v1h-3zM1313 132h3v1h-3zM1319 132h3v1h-3zM1325 132h3v1h-3zM1331 132h3v1h-3zM1337 132h3v1h-3zM1343 132h3v1h-3zM1349 132h3v1h-3zM1355 132h3v1h-3zM1361 132h3v1h-3zM1367 132h3v1h-3zM1373 132h3v1h-3zM1379 132h3v1h-3zM1385 132h3v1h-3zM1391 132h3v1h-3zM1397 132h3v1h-3zM1403 132h3v1h-3zM1409 132h3v1h-3zM1415 132h3v1h-3zM1421 132h3v1h-3zM1427 132h3v1h-3zM1433 132h3v1h-3zM1439 132h3v1h-3zM1445 132h3v1h-3zM1451 132h3v1h-3zM1457 132h3v1h-3zM1463 132h3v1h-3zM1469 132h3v1h-3zM1475 132h3v1h-3zM1481 132h3v1h-3zM1487 132h3v1h-3zM1493 132h3v1h-3zM1499 132h3v1h-3zM1505 132h3v1h-3zM1511 132h3v1h-3zM1517 132h3v1h-3zM5 197h3v1h-3zM11 197h3v1h-3zM17 197h3v1h-3zM23 197h3v1h-3zM29 197h3v1h-3zM35 197h3v1h-3zM41 197h3v1h-3zM47 197h3v1h-3zM53 197h3v1h-3zM59 197h3v1h-3zM65 197h3v1h-3zM71 197h3v1h-3zM77 197h3v1h-3zM83 197h3v1h-3zM89 197h3v1h-3zM95 197h3v1h-3zM101 197h3v1h-3zM107 197h3v1h-3zM113 197h3v1h-3zM119 197h3v1h-3zM125 197h3v1h-3zM131 197h3v1h-3zM137 197h3v1h-3zM143 197h3v1h-3zM149 197h3v1h-3zM155 197h3v1h-3zM161 197h3v1h-3zM167 197h3v1h-3zM173 197h3v1h-3zM179 197h3v1h-3zM185 197h3v1h-3zM191 197h3v1h-3zM197 197h3v1h-3zM203 197h3v1h-3zM209 197h3v1h-3zM215 197h3v1h-3zM221 197h3v1h-3zM227 197h3v1h-3zM233 197h3v1h-3zM239 197h3v1h-3zM245 197h3v1h-3zM251 197h3v1h-3zM257 197h3v1h-3zM263 197h3v1h-3zM269 197h3v1h-3zM275 197h3v1h-3zM281 197h3v1h-3zM287 197h3v1h-3zM293 197h3v1h-3zM299 197h3v1h-3zM305 197h3v1h-3zM311 197h3v1h-3zM317 197h3v1h-3zM323 197h3v1h-3zM329 197h3v1h-3zM335 197h3v1h-3zM341 197h3v1h-3zM347 197h3v1h-3zM353 197h3v1h-3zM359 197h3v1h-3zM365 197h3v1h-3zM371 197h3v1h-3zM377 197h3v1h-3zM383 197h3v1h-3zM389 197h3v1h-3zM395 197h3v1h-3zM401 197h3v1h-3zM407 197h3v1h-3zM413 197h3v1h-3zM419 197h3v1h-3zM425 197h3v1h-3zM431 197h3v1h-3zM437 197h3v1h-3zM443 197h3v1h-3zM449 197h3v1h-3zM455 197h3v1h-3zM461 197h3v1h-3zM467 197h3v1h-3zM473 197h3v1h-3zM479 197h3v1h-3zM485 197h3v1h-3zM491 197h3v1h-3zM497 197h3v1h-3zM503 197h3v1h-3zM509 197h3v1h-3zM515 197h3v1h-3zM521 197h3v1h-3zM527 197h3v1h-3zM533 197h3v1h-3zM539 197h3v1h-3zM545 197h3v1h-3zM551 197h3v1h-3zM557 197h3v1h-3zM563 197h3v1h-3zM569 197h3v1h-3zM575 197h3v1h-3zM581 197h3v1h-3zM587 197h3v1h-3zM593 197h3v1h-3zM599 197h3v1h-3zM605 197h3v1h-3zM611 197h3v1h-3zM617 197h3v1h-3zM623 197h3v1h-3zM629 197h3v1h-3zM635 197h3v1h-3zM641 197h3v1h-3zM647 197h3v1h-3zM653 197h3v1h-3zM659 197h3v1h-3zM665 197h3v1h-3zM671 197h3v1h-3zM677 197h3v1h-3zM683 197h3v1h-3zM689 197h3v1h-3zM695 197h3v1h-3zM701 197h3v1h-3zM707 197h3v1h-3zM713 197h3v1h-3zM719 197h3v1h-3zM725 197h3v1h-3zM731 197h3v1h-3zM737 197h3v1h-3zM743 197h3v1h-3zM749 197h3v1h-3zM755 197h3v1h-3zM761 197h3v1h-3zM767 197h3v1h-3zM773 197h3v1h-3zM779 197h3v1h-3zM785 197h3v1h-3zM791 197h3v1h-3zM797 197h3v1h-3zM803 197h3v1h-3zM809 197h3v1h-3zM815 197h3v1h-3zM821 197h3v1h-3zM827 197h3v1h-3zM833 197h3v1h-3zM839 197h3v1h-3zM845 197h3v1h-3zM851 197h3v1h-3zM857 197h3v1h-3zM863 197h3v1h-3zM869 197h3v1h-3zM875 197h3v1h-3zM881 197h3v1h-3zM887 197h3v1h-3zM893 197h3v1h-3zM899 197h3v1h-3zM905 197h3v1h-3zM911 197h3v1h-3zM917 197h3v1h-3zM923 197h3v1h-3zM929 197h3v1h-3zM935 197h3v1h-3zM941 197h3v1h-3zM947 197h3v1h-3zM953 197h3v1h-3zM959 197h3v1h-3zM965 197h3v1h-3zM971 197h3v1h-3zM977 197h3v1h-3zM983 197h3v1h-3zM989 197h3v1h-3zM995 197h3v1h-3zM1001 197h3v1h-3zM1007 197h3v1h-3zM1013 197h3v1h-3zM1019 197h3v1h-3zM1025 197h3v1h-3zM1031 197h3v1h-3zM1037 197h3v1h-3zM1043 197h3v1h-3zM1049 197h3v1h-3zM1055 197h3v1h-3zM1061 197h3v1h-3zM1067 197h3v1h-3zM1073 197h3v1h-3zM1079 197h3v1h-3zM1085 197h3v1h-3zM1091 197h3v1h-3zM1097 197h3v1h-3zM1103 197h3v1h-3zM1109 197h3v1h-3zM1115 197h3v1h-3zM1121 197h3v1h-3zM1127 197h3v1h-3zM1133 197h3v1h-3zM1139 197h3v1h-3zM1145 197h3v1h-3zM1151 197h3v1h-3zM1157 197h3v1h-3zM1163 197h3v1h-3zM1169 197h3v1h-3zM1175 197h3v1h-3zM1181 197h3v1h-3zM1187 197h3v1h-3zM1193 197h3v1h-3zM1199 197h3v1h-3zM1205 197h3v1h-3zM1211 197h3v1h-3zM1217 197h3v1h-3zM1223 197h3v1h-3zM1229 197h3v1h-3zM1235 197h3v1h-3zM1241 197h3v1h-3zM1247 197h3v1h-3zM1253 197h3v1h-3zM1259 197h3v1h-3zM1265 197h3v1h-3zM1271 197h3v1h-3zM1277 197h3v1h-3zM1283 197h3v1h-3zM1289 197h3v1h-3zM1295 197h3v1h-3zM1301 197h3v1h-3zM1307 197h3v1h-3zM1313 197h3v1h-3zM1319 197h3v1h-3zM1325 197h3v1h-3zM1331 197h3v1h-3zM1337 197h3v1h-3zM1343 197h3v1h-3zM1349 197h3v1h-3zM1355 197h3v1h-3zM1361 197h3v1h-3zM1367 197h3v1h-3zM1373 197h3v1h-3zM1379 197h3v1h-3zM1385 197h3v1h-3zM1391 197h3v1h-3zM1397 197h3v1h-3zM1403 197h3v1h-3zM1409 197h3v1h-3zM1415 197h3v1h-3zM1421 197h3v1h-3zM1427 197h3v1h-3zM1433 197h3v1h-3zM1439 197h3v1h-3zM1445 197h3v1h-3zM1451 197h3v1h-3zM1457 197h3v1h-3zM1463 197h3v1h-3zM1469 197h3v1h-3zM1475 197h3v1h-3zM1481 197h3v1h-3zM1487 197h3v1h-3zM1493 197h3v1h-3zM1499 197h3v1h-3zM1505 197h3v1h-3zM1511 197h3v1h-3zM1517 197h3v1h-3zM5 262h3v1h-3zM11 262h3v1h-3zM17 262h3v1h-3zM23 262h3v1h-3zM29 262h3v1h-3zM35 262h3v1h-3zM41 262h3v1h-3zM47 262h3v1h-3zM53 262h3v1h-3zM59 262h3v1h-3zM65 262h3v1h-3zM71 262h3v1h-3zM77 262h3v1h-3zM83 262h3v1h-3zM89 262h3v1h-3zM95 262h3v1h-3zM101 262h3v1h-3zM107 262h3v1h-3zM113 262h3v1h-3zM119 262h3v1h-3zM125 262h3v1h-3zM131 262h3v1h-3zM137 262h3v1h-3zM143 262h3v1h-3zM149 262h3v1h-3zM155 262h3v1h-3zM161 262h3v1h-3zM167 262h3v1h-3zM173 262h3v1h-3zM179 262h3v1h-3zM185 262h3v1h-3zM191 262h3v1h-3zM197 262h3v1h-3zM203 262h3v1h-3zM209 262h3v1h-3zM215 262h3v1h-3zM221 262h3v1h-3zM227 262h3v1h-3zM233 262h3v1h-3zM239 262h3v1h-3zM245 262h3v1h-3zM251 262h3v1h-3zM257 262h3v1h-3zM263 262h3v1h-3zM269 262h3v1h-3zM275 262h3v1h-3zM281 262h3v1h-3zM287 262h3v1h-3zM293 262h3v1h-3zM299 262h3v1h-3zM305 262h3v1h-3zM311 262h3v1h-3zM317 262h3v1h-3zM323 262h3v1h-3zM329 262h3v1h-3zM335 262h3v1h-3zM341 262h3v1h-3zM347 262h3v1h-3zM353 262h3v1h-3zM359 262h3v1h-3zM365 262h3v1h-3zM371 262h3v1h-3zM377 262h3v1h-3zM383 262h3v1h-3zM389 262h3v1h-3zM395 262h3v1h-3zM401 262h3v1h-3zM407 262h3v1h-3zM413 262h3v1h-3zM419 262h3v1h-3zM425 262h3v1h-3zM431 262h3v1h-3zM437 262h3v1h-3zM443 262h3v1h-3zM449 262h3v1h-3zM455 262h3v1h-3zM461 262h3v1h-3zM467 262h3v1h-3zM473 262h3v1h-3zM479 262h3v1h-3zM485 262h3v1h-3zM491 262h3v1h-3zM497 262h3v1h-3zM503 262h3v1h-3zM509 262h3v1h-3zM515 262h3v1h-3zM521 262h3v1h-3zM527 262h3v1h-3zM533 262h3v1h-3zM539 262h3v1h-3zM545 262h3v1h-3zM551 262h3v1h-3zM557 262h3v1h-3zM563 262h3v1h-3zM569 262h3v1h-3zM575 262h3v1h-3zM581 262h3v1h-3zM587 262h3v1h-3zM593 262h3v1h-3zM599 262h3v1h-3zM605 262h3v1h-3zM611 262h3v1h-3zM617 262h3v1h-3zM623 262h3v1h-3zM629 262h3v1h-3zM635 262h3v1h-3zM641 262h3v1h-3zM647 262h3v1h-3zM653 262h3v1h-3zM659 262h3v1h-3zM665 262h3v1h-3zM671 262h3v1h-3zM677 262h3v1h-3zM683 262h3v1h-3zM689 262h3v1h-3zM695 262h3v1h-3zM701 262h3v1h-3zM707 262h3v1h-3zM713 262h3v1h-3zM719 262h3v1h-3zM725 262h3v1h-3zM731 262h3v1h-3zM737 262h3v1h-3zM743 262h3v1h-3zM749 262h3v1h-3zM755 262h3v1h-3zM761 262h3v1h-3zM767 262h3v1h-3zM773 262h3v1h-3zM779 262h3v1h-3zM785 262h3v1h-3zM791 262h3v1h-3zM797 262h3v1h-3zM803 262h3v1h-3zM809 262h3v1h-3zM815 262h3v1h-3zM821 262h3v1h-3zM827 262h3v1h-3zM833 262h3v1h-3zM839 262h3v1h-3zM845 262h3v1h-3zM851 262h3v1h-3zM857 262h3v1h-3zM863 262h3v1h-3zM869 262h3v1h-3zM875 262h3v1h-3zM881 262h3v1h-3zM887 262h3v1h-3zM893 262h3v1h-3zM899 262h3v1h-3zM905 262h3v1h-3zM911 262h3v1h-3zM917 262h3v1h-3zM923 262h3v1h-3zM929 262h3v1h-3zM935 262h3v1h-3zM941 262h3v1h-3zM947 262h3v1h-3zM953 262h3v1h-3zM959 262h3v1h-3zM965 262h3v1h-3zM971 262h3v1h-3zM977 262h3v1h-3zM983 262h3v1h-3zM989 262h3v1h-3zM995 262h3v1h-3zM1001 262h3v1h-3zM1007 262h3v1h-3zM1013 262h3v1h-3zM1019 262h3v1h-3zM1025 262h3v1h-3zM1031 262h3v1h-3zM1037 262h3v1h-3zM1043 262h3v1h-3zM1049 262h3v1h-3zM1055 262h3v1h-3zM1061 262h3v1h-3zM1067 262h3v1h-3zM1073 262h3v1h-3zM1079 262h3v1h-3zM1085 262h3v1h-3zM1091 262h3v1h-3zM1097 262h3v1h-3zM1103 262h3v1h-3zM1109 262h3v1h-3zM1115 262h3v1h-3zM1121 262h3v1h-3zM1127 262h3v1h-3zM1133 262h3v1h-3zM1139 262h3v1h-3zM1145 262h3v1h-3zM1151 262h3v1h-3zM1157 262h3v1h-3zM1163 262h3v1h-3zM1169 262h3v1h-3zM1175 262h3v1h-3zM1181 262h3v1h-3zM1187 262h3v1h-3zM1193 262h3v1h-3zM1199 262h3v1h-3zM1205 262h3v1h-3zM1211 262h3v1h-3zM1217 262h3v1h-3zM1223 262h3v1h-3zM1229 262h3v1h-3zM1235 262h3v1h-3zM1241 262h3v1h-3zM1247 262h3v1h-3zM1253 262h3v1h-3zM1259 262h3v1h-3zM1265 262h3v1h-3zM1271 262h3v1h-3zM1277 262h3v1h-3zM1283 262h3v1h-3zM1289 262h3v1h-3zM1295 262h3v1h-3zM1301 262h3v1h-3zM1307 262h3v1h-3zM1313 262h3v1h-3zM1319 262h3v1h-3zM1325 262h3v1h-3zM1331 262h3v1h-3zM1337 262h3v1h-3zM1343 262h3v1h-3zM1349 262h3v1h-3zM1355 262h3v1h-3zM1361 262h3v1h-3zM1367 262h3v1h-3zM1373 262h3v1h-3zM1379 262h3v1h-3zM1385 262h3v1h-3zM1391 262h3v1h-3zM1397 262h3v1h-3zM1403 262h3v1h-3zM1409 262h3v1h-3zM1415 262h3v1h-3zM1421 262h3v1h-3zM1427 262h3v1h-3zM1433 262h3v1h-3zM1439 262h3v1h-3zM1445 262h3v1h-3zM1451 262h3v1h-3zM1457 262h3v1h-3zM1463 262h3v1h-3zM1469 262h3v1h-3zM1475 262h3v1h-3zM1481 262h3v1h-3zM1487 262h3v1h-3zM1493 262h3v1h-3zM1499 262h3v1h-3zM1505 262h3v1h-3zM1511 262h3v1h-3zM1517 262h3v1h-3zM5 327h3v1h-3zM11 327h3v1h-3zM17 327h3v1h-3zM23 327h3v1h-3zM29 327h3v1h-3zM35 327h3v1h-3zM41 327h3v1h-3zM47 327h3v1h-3zM53 327h3v1h-3zM59 327h3v1h-3zM65 327h3v1h-3zM71 327h3v1h-3zM77 327h3v1h-3zM83 327h3v1h-3zM89 327h3v1h-3zM95 327h3v1h-3zM101 327h3v1h-3zM107 327h3v1h-3zM113 327h3v1h-3zM119 327h3v1h-3zM125 327h3v1h-3zM131 327h3v1h-3zM137 327h3v1h-3zM143 327h3v1h-3zM149 327h3v1h-3zM155 327h3v1h-3zM161 327h3v1h-3zM167 327h3v1h-3zM173 327h3v1h-3zM179 327h3v1h-3zM185 327h3v1h-3zM191 327h3v1h-3zM197 327h3v1h-3zM203 327h3v1h-3zM209 327h3v1h-3zM215 327h3v1h-3zM221 327h3v1h-3zM227 327h3v1h-3zM233 327h3v1h-3zM239 327h3v1h-3zM245 327h3v1h-3zM251 327h3v1h-3zM257 327h3v1h-3zM263 327h3v1h-3zM269 327h3v1h-3zM275 327h3v1h-3zM281 327h3v1h-3zM287 327h3v1h-3zM293 327h3v1h-3zM299 327h3v1h-3zM305 327h3v1h-3zM311 327h3v1h-3zM317 327h3v1h-3zM323 327h3v1h-3zM329 327h3v1h-3zM335 327h3v1h-3zM341 327h3v1h-3zM347 327h3v1h-3zM353 327h3v1h-3zM359 327h3v1h-3zM365 327h3v1h-3zM371 327h3v1h-3zM377 327h3v1h-3zM383 327h3v1h-3zM389 327h3v1h-3zM395 327h3v1h-3zM401 327h3v1h-3zM407 327h3v1h-3zM413 327h3v1h-3zM419 327h3v1h-3zM425 327h3v1h-3zM431 327h3v1h-3zM437 327h3v1h-3zM443 327h3v1h-3zM449 327h3v1h-3zM455 327h3v1h-3zM461 327h3v1h-3zM467 327h3v1h-3zM473 327h3v1h-3zM479 327h3v1h-3zM485 327h3v1h-3zM491 327h3v1h-3zM497 327h3v1h-3zM503 327h3v1h-3zM509 327h3v1h-3zM515 327h3v1h-3zM521 327h3v1h-3zM527 327h3v1h-3zM533 327h3v1h-3zM539 327h3v1h-3zM545 327h3v1h-3zM551 327h3v1h-3zM557 327h3v1h-3zM563 327h3v1h-3zM569 327h3v1h-3zM575 327h3v1h-3zM581 327h3v1h-3zM587 327h3v1h-3zM593 327h3v1h-3zM599 327h3v1h-3zM605 327h3v1h-3zM611 327h3v1h-3zM617 327h3v1h-3zM623 327h3v1h-3zM629 327h3v1h-3zM635 327h3v1h-3zM641 327h3v1h-3zM647 327h3v1h-3zM653 327h3v1h-3zM659 327h3v1h-3zM665 327h3v1h-3zM671 327h3v1h-3zM677 327h3v1h-3zM683 327h3v1h-3zM689 327h3v1h-3zM695 327h3v1h-3zM701 327h3v1h-3zM707 327h3v1h-3zM713 327h3v1h-3zM719 327h3v1h-3zM725 327h3v1h-3zM731 327h3v1h-3zM737 327h3v1h-3zM743 327h3v1h-3zM749 327h3v1h-3zM755 327h3v1h-3zM761 327h3v1h-3zM767 327h3v1h-3zM773 327h3v1h-3zM779 327h3v1h-3zM785 327h3v1h-3zM791 327h3v1h-3zM797 327h3v1h-3zM803 327h3v1h-3zM809 327h3v1h-3zM815 327h3v1h-3zM821 327h3v1h-3zM827 327h3v1h-3zM833 327h3v1h-3zM839 327h3v1h-3zM845 327h3v1h-3zM851 327h3v1h-3zM857 327h3v1h-3zM863 327h3v1h-3zM869 327h3v1h-3zM875 327h3v1h-3zM881 327h3v1h-3zM887 327h3v1h-3zM893 327h3v1h-3zM899 327h3v1h-3zM905 327h3v1h-3zM911 327h3v1h-3zM917 327h3v1h-3zM923 327h3v1h-3zM929 327h3v1h-3zM935 327h3v1h-3zM941 327h3v1h-3zM947 327h3v1h-3zM953 327h3v1h-3zM959 327h3v1h-3zM965 327h3v1h-3zM971 327h3v1h-3zM977 327h3v1h-3zM983 327h3v1h-3zM989 327h3v1h-3zM995 327h3v1h-3zM1001 327h3v1h-3zM1007 327h3v1h-3zM1013 327h3v1h-3zM1019 327h3v1h-3zM1025 327h3v1h-3zM1031 327h3v1h-3zM1037 327h3v1h-3zM1043 327h3v1h-3zM1049 327h3v1h-3zM1055 327h3v1h-3zM1061 327h3v1h-3zM1067 327h3v1h-3zM1073 327h3v1h-3zM1079 327h3v1h-3zM1085 327h3v1h-3zM1091 327h3v1h-3zM1097 327h3v1h-3zM1103 327h3v1h-3zM1109 327h3v1h-3zM1115 327h3v1h-3zM1121 327h3v1h-3zM1127 327h3v1h-3zM1133 327h3v1h-3zM1139 327h3v1h-3zM1145 327h3v1h-3zM1151 327h3v1h-3zM1157 327h3v1h-3zM1163 327h3v1h-3zM1169 327h3v1h-3zM1175 327h3v1h-3zM1181 327h3v1h-3zM1187 327h3v1h-3zM1193 327h3v1h-3zM1199 327h3v1h-3zM1205 327h3v1h-3zM1211 327h3v1h-3zM1217 327h3v1h-3zM1223 327h3v1h-3zM1229 327h3v1h-3zM1235 327h3v1h-3zM1241 327h3v1h-3zM1247 327h3v1h-3zM1253 327h3v1h-3zM1259 327h3v1h-3zM1265 327h3v1h-3zM1271 327h3v1h-3zM1277 327h3v1h-3zM1283 327h3v1h-3zM1289 327h3v1h-3zM1295 327h3v1h-3zM1301 327h3v1h-3zM1307 327h3v1h-3zM1313 327h3v1h-3zM1319 327h3v1h-3zM1325 327h3v1h-3zM1331 327h3v1h-3zM1337 327h3v1h-3zM1343 327h3v1h-3zM1349 327h3v1h-3zM1355 327h3v1h-3zM1361 327h3v1h-3zM1367 327h3v1h-3zM1373 327h3v1h-3zM1379 327h3v1h-3zM1385 327h3v1h-3zM1391 327h3v1h-3zM1397 327h3v1h-3zM1403 327h3v1h-3zM1409 327h3v1h-3zM1415 327h3v1h-3zM1421 327h3v1h-3zM1427 327h3v1h-3zM1433 327h3v1h-3zM1439 327h3v1h-3zM1445 327h3v1h-3zM1451 327h3v1h-3zM1457 327h3v1h-3zM1463 327h3v1h-3zM1469 327h3v1h-3zM1475 327h3v1h-3zM1481 327h3v1h-3zM1487 327h3v1h-3zM1493 327h3v1h-3zM1499 327h3v1h-3zM1505 327h3v1h-3zM1511 327h3v1h-3zM1517 327h3v1h-3zM5 392h3v1h-3zM11 392h3v1h-3zM17 392h3v1h-3zM23 392h3v1h-3zM29 392h3v1h-3zM35 392h3v1h-3zM41 392h3v1h-3zM47 392h3v1h-3zM53 392h3v1h-3zM59 392h3v1h-3zM65 392h3v1h-3zM71 392h3v1h-3zM77 392h3v1h-3zM83 392h3v1h-3zM89 392h3v1h-3zM95 392h3v1h-3zM101 392h3v1h-3zM107 392h3v1h-3zM113 392h3v1h-3zM119 392h3v1h-3zM125 392h3v1h-3zM131 392h3v1h-3zM137 392h3v1h-3zM143 392h3v1h-3zM149 392h3v1h-3zM155 392h3v1h-3zM161 392h3v1h-3zM167 392h3v1h-3zM173 392h3v1h-3zM179 392h3v1h-3zM185 392h3v1h-3zM191 392h3v1h-3zM197 392h3v1h-3zM203 392h3v1h-3zM209 392h3v1h-3zM215 392h3v1h-3zM221 392h3v1h-3zM227 392h3v1h-3zM233 392h3v1h-3zM239 392h3v1h-3zM245 392h3v1h-3zM251 392h3v1h-3zM257 392h3v1h-3zM263 392h3v1h-3zM269 392h3v1h-3zM275 392h3v1h-3zM281 392h3v1h-3zM287 392h3v1h-3zM293 392h3v1h-3zM299 392h3v1h-3zM305 392h3v1h-3zM311 392h3v1h-3zM317 392h3v1h-3zM323 392h3v1h-3zM329 392h3v1h-3zM335 392h3v1h-3zM341 392h3v1h-3zM347 392h3v1h-3zM353 392h3v1h-3zM359 392h3v1h-3zM365 392h3v1h-3zM371 392h3v1h-3zM377 392h3v1h-3zM383 392h3v1h-3zM389 392h3v1h-3zM395 392h3v1h-3zM401 392h3v1h-3zM407 392h3v1h-3zM413 392h3v1h-3zM419 392h3v1h-3zM425 392h3v1h-3zM431 392h3v1h-3zM437 392h3v1h-3zM443 392h3v1h-3zM449 392h3v1h-3zM455 392h3v1h-3zM461 392h3v1h-3zM467 392h3v1h-3zM473 392h3v1h-3zM479 392h3v1h-3zM485 392h3v1h-3zM491 392h3v1h-3zM497 392h3v1h-3zM503 392h3v1h-3zM509 392h3v1h-3zM515 392h3v1h-3zM521 392h3v1h-3zM527 392h3v1h-3zM533 392h3v1h-3zM539 392h3v1h-3zM545 392h3v1h-3zM551 392h3v1h-3zM557 392h3v1h-3zM563 392h3v1h-3zM569 392h3v1h-3zM575 392h3v1h-3zM581 392h3v1h-3zM587 392h3v1h-3zM593 392h3v1h-3zM599 392h3v1h-3zM605 392h3v1h-3zM611 392h3v1h-3zM617 392h3v1h-3zM623 392h3v1h-3zM629 392h3v1h-3zM635 392h3v1h-3zM641 392h3v1h-3zM647 392h3v1h-3zM653 392h3v1h-3zM659 392h3v1h-3zM665 392h3v1h-3zM671 392h3v1h-3zM677 392h3v1h-3zM683 392h3v1h-3zM689 392h3v1h-3zM695 392h3v1h-3zM701 392h3v1h-3zM707 392h3v1h-3zM713 392h3v1h-3zM719 392h3v1h-3zM725 392h3v1h-3zM731 392h3v1h-3zM737 392h3v1h-3zM743 392h3v1h-3zM749 392h3v1h-3zM755 392h3v1h-3zM761 392h3v1h-3zM767 392h3v1h-3zM773 392h3v1h-3zM779 392h3v1h-3zM785 392h3v1h-3zM791 392h3v1h-3zM797 392h3v1h-3zM803 392h3v1h-3zM809 392h3v1h-3zM815 392h3v1h-3zM821 392h3v1h-3zM827 392h3v1h-3zM833 392h3v1h-3zM839 392h3v1h-3zM845 392h3v1h-3zM851 392h3v1h-3zM857 392h3v1h-3zM863 392h3v1h-3zM869 392h3v1h-3zM875 392h3v1h-3zM881 392h3v1h-3zM887 392h3v1h-3zM893 392h3v1h-3zM899 392h3v1h-3zM905 392h3v1h-3zM911 392h3v1h-3zM917 392h3v1h-3zM923 392h3v1h-3zM929 392h3v1h-3zM935 392h3v1h-3zM941 392h3v1h-3zM947 392h3v1h-3zM953 392h3v1h-3zM959 392h3v1h-3zM965 392h3v1h-3zM971 392h3v1h-3zM977 392h3v1h-3zM983 392h3v1h-3zM989 392h3v1h-3zM995 392h3v1h-3zM1001 392h3v1h-3zM1007 392h3v1h-3zM1013 392h3v1h-3zM1019 392h3v1h-3zM1025 392h3v1h-3zM1031 392h3v1h-3zM1037 392h3v1h-3zM1043 392h3v1h-3zM1049 392h3v1h-3zM1055 392h3v1h-3zM1061 392h3v1h-3zM1067 392h3v1h-3zM1073 392h3v1h-3zM1079 392h3v1h-3zM1085 392h3v1h-3zM1091 392h3v1h-3zM1097 392h3v1h-3zM1103 392h3v1h-3zM1109 392h3v1h-3zM1115 392h3v1h-3zM1121 392h3v1h-3zM1127 392h3v1h-3zM1133 392h3v1h-3zM1139 392h3v1h-3zM1145 392h3v1h-3zM1151 392h3v1h-3zM1157 392h3v1h-3zM1163 392h3v1h-3zM1169 392h3v1h-3zM1175 392h3v1h-3zM1181 392h3v1h-3zM1187 392h3v1h-3zM1193 392h3v1h-3zM1199 392h3v1h-3zM1205 392h3v1h-3zM1211 392h3v1h-3zM1217 392h3v1h-3zM1223 392h3v1h-3zM1229 392h3v1h-3zM1235 392h3v1h-3zM1241 392h3v1h-3zM1247 392h3v1h-3zM1253 392h3v1h-3zM1259 392h3v1h-3zM1265 392h3v1h-3zM1271 392h3v1h-3zM1277 392h3v1h-3zM1283 392h3v1h-3zM1289 392h3v1h-3zM1295 392h3v1h-3zM1301 392h3v1h-3zM1307 392h3v1h-3zM1313 392h3v1h-3zM1319 392h3v1h-3zM1325 392h3v1h-3zM1331 392h3v1h-3zM1337 392h3v1h-3zM1343 392h3v1h-3zM1349 392h3v1h-3zM1355 392h3v1h-3zM1361 392h3v1h-3zM1367 392h3v1h-3zM1373 392h3v1h-3zM1379 392h3v1h-3zM1385 392h3v1h-3zM1391 392h3v1h-3zM1397 392h3v1h-3zM1403 392h3v1h-3zM1409 392h3v1h-3zM1415 392h3v1h-3zM1421 392h3v1h-3zM1427 392h3v1h-3zM1433 392h3v1h-3zM1439 392h3v1h-3zM1445 392h3v1h-3zM1451 392h3v1h-3zM1457 392h3v1h-3zM1463 392h3v1h-3zM1469 392h3v1h-3zM1475 392h3v1h-3zM1481 392h3v1h-3zM1487 392h3v1h-3zM1493 392h3v1h-3zM1499 392h3v1h-3zM1505 392h3v1h-3zM1511 392h3v1h-3zM1517 392h3v1h-3zM5 457h3v1h-3zM11 457h3v1h-3zM17 457h3v1h-3zM23 457h3v1h-3zM29 457h3v1h-3zM35 457h3v1h-3zM41 457h3v1h-3zM47 457h3v1h-3zM53 457h3v1h-3zM59 457h3v1h-3zM65 457h3v1h-3zM71 457h3v1h-3zM77 457h3v1h-3zM83 457h3v1h-3zM89 457h3v1h-3zM95 457h3v1h-3zM101 457h3v1h-3zM107 457h3v1h-3zM113 457h3v1h-3zM119 457h3v1h-3zM125 457h3v1h-3zM131 457h3v1h-3zM137 457h3v1h-3zM143 457h3v1h-3zM149 457h3v1h-3zM155 457h3v1h-3zM161 457h3v1h-3zM167 457h3v1h-3zM173 457h3v1h-3zM179 457h3v1h-3zM185 457h3v1h-3zM191 457h3v1h-3zM197 457h3v1h-3zM203 457h3v1h-3zM209 457h3v1h-3zM215 457h3v1h-3zM221 457h3v1h-3zM227 457h3v1h-3zM233 457h3v1h-3zM239 457h3v1h-3zM245 457h3v1h-3zM251 457h3v1h-3zM257 457h3v1h-3zM263 457h3v1h-3zM269 457h3v1h-3zM275 457h3v1h-3zM281 457h3v1h-3zM287 457h3v1h-3zM293 457h3v1h-3zM299 457h3v1h-3zM305 457h3v1h-3zM311 457h3v1h-3zM317 457h3v1h-3zM323 457h3v1h-3zM329 457h3v1h-3zM335 457h3v1h-3zM341 457h3v1h-3zM347 457h3v1h-3zM353 457h3v1h-3zM359 457h3v1h-3zM365 457h3v1h-3zM371 457h3v1h-3zM377 457h3v1h-3zM383 457h3v1h-3zM389 457h3v1h-3zM395 457h3v1h-3zM401 457h3v1h-3zM407 457h3v1h-3zM413 457h3v1h-3zM419 457h3v1h-3zM425 457h3v1h-3zM431 457h3v1h-3zM437 457h3v1h-3zM443 457h3v1h-3zM449 457h3v1h-3zM455 457h3v1h-3zM461 457h3v1h-3zM467 457h3v1h-3zM473 457h3v1h-3zM479 457h3v1h-3zM485 457h3v1h-3zM491 457h3v1h-3zM497 457h3v1h-3zM503 457h3v1h-3zM509 457h3v1h-3zM515 457h3v1h-3zM521 457h3v1h-3zM527 457h3v1h-3zM533 457h3v1h-3zM539 457h3v1h-3zM545 457h3v1h-3zM551 457h3v1h-3zM557 457h3v1h-3zM563 457h3v1h-3zM569 457h3v1h-3zM575 457h3v1h-3zM581 457h3v1h-3zM587 457h3v1h-3zM593 457h3v1h-3zM599 457h3v1h-3zM605 457h3v1h-3zM611 457h3v1h-3zM617 457h3v1h-3zM623 457h3v1h-3zM629 457h3v1h-3zM635 457h3v1h-3zM641 457h3v1h-3zM647 457h3v1h-3zM653 457h3v1h-3zM659 457h3v1h-3zM665 457h3v1h-3zM671 457h3v1h-3zM677 457h3v1h-3zM683 457h3v1h-3zM689 457h3v1h-3zM695 457h3v1h-3zM701 457h3v1h-3zM707 457h3v1h-3zM713 457h3v1h-3zM719 457h3v1h-3zM725 457h3v1h-3zM731 457h3v1h-3zM737 457h3v1h-3zM743 457h3v1h-3zM749 457h3v1h-3zM755 457h3v1h-3zM761 457h3v1h-3zM767 457h3v1h-3zM773 457h3v1h-3zM779 457h3v1h-3zM785 457h3v1h-3zM791 457h3v1h-3zM797 457h3v1h-3zM803 457h3v1h-3zM809 457h3v1h-3zM815 457h3v1h-3zM821 457h3v1h-3zM827 457h3v1h-3zM833 457h3v1h-3zM839 457h3v1h-3zM845 457h3v1h-3zM851 457h3v1h-3zM857 457h3v1h-3zM863 457h3v1h-3zM869 457h3v1h-3zM875 457h3v1h-3zM881 457h3v1h-3zM887 457h3v1h-3zM893 457h3v1h-3zM899 457h3v1h-3zM905 457h3v1h-3zM911 457h3v1h-3zM917 457h3v1h-3zM923 457h3v1h-3zM929 457h3v1h-3zM935 457h3v1h-3zM941 457h3v1h-3zM947 457h3v1h-3zM953 457h3v1h-3zM959 457h3v1h-3zM965 457h3v1h-3zM971 457h3v1h-3zM977 457h3v1h-3zM983 457h3v1h-3zM989 457h3v1h-3zM995 457h3v1h-3zM1001 457h3v1h-3zM1007 457h3v1h-3zM1013 457h3v1h-3zM1019 457h3v1h-3zM1025 457h3v1h-3zM1031 457h3v1h-3zM1037 457h3v1h-3zM1043 457h3v1h-3zM1049 457h3v1h-3zM1055 457h3v1h-3zM1061 457h3v1h-3zM1067 457h3v1h-3zM1073 457h3v1h-3zM1079 457h3v1h-3zM1085 457h3v1h-3zM1091 457h3v1h-3zM1097 457h3v1h-3zM1103 457h3v1h-3zM1109 457h3v1h-3zM1115 457h3v1h-3zM1121 457h3v1h-3zM1127 457h3v1h-3zM1133 457h3v1h-3zM1139 457h3v1h-3zM1145 457h3v1h-3zM1151 457h3v1h-3zM1157 457h3v1h-3zM1163 457h3v1h-3zM1169 457h3v1h-3zM1175 457h3v1h-3zM1181 457h3v1h-3zM1187 457h3v1h-3zM1193 457h3v1h-3zM1199 457h3v1h-3zM1205 457h3v1h-3zM1211 457h3v1h-3zM1217 457h3v1h-3zM1223 457h3v1h-3zM1229 457h3v1h-3zM1235 457h3v1h-3zM1241 457h3v1h-3zM1247 457h3v1h-3zM1253 457h3v1h-3zM1259 457h3v1h-3zM1265 457h3v1h-3zM1271 457h3v1h-3zM1277 457h3v1h-3zM1283 457h3v1h-3zM1289 457h3v1h-3zM1295 457h3v1h-3zM1301 457h3v1h-3zM1307 457h3v1h-3zM1313 457h3v1h-3zM1319 457h3v1h-3zM1325 457h3v1h-3zM1331 457h3v1h-3zM1337 457h3v1h-3zM1343 457h3v1h-3zM1349 457h3v1h-3zM1355 457h3v1h-3zM1361 457h3v1h-3zM1367 457h3v1h-3zM1373 457h3v1h-3zM1379 457h3v1h-3zM1385 457h3v1h-3zM1391 457h3v1h-3zM1397 457h3v1h-3zM1403 457h3v1h-3zM1409 457h3v1h-3zM1415 457h3v1h-3zM1421 457h3v1h-3zM1427 457h3v1h-3zM1433 457h3v1h-3zM1439 457h3v1h-3zM1445 457h3v1h-3zM1451 457h3v1h-3zM1457 457h3v1h-3zM1463 457h3v1h-3zM1469 457h3v1h-3zM1475 457h3v1h-3zM1481 457h3v1h-3zM1487 457h3v1h-3zM1493 457h3v1h-3zM1499 457h3v1h-3zM1505 457h3v1h-3zM1511 457h3v1h-3zM1517 457h3v1h-3zM5 522h3v1h-3zM11 522h3v1h-3zM17 522h3v1h-3zM23 522h3v1h-3zM29 522h3v1h-3zM35 522h3v1h-3zM41 522h3v1h-3zM47 522h3v1h-3zM53 522h3v1h-3zM59 522h3v1h-3zM65 522h3v1h-3zM71 522h3v1h-3zM77 522h3v1h-3zM83 522h3v1h-3zM89 522h3v1h-3zM95 522h3v1h-3zM101 522h3v1h-3zM107 522h3v1h-3zM113 522h3v1h-3zM119 522h3v1h-3zM125 522h3v1h-3zM131 522h3v1h-3zM137 522h3v1h-3zM143 522h3v1h-3zM149 522h3v1h-3zM155 522h3v1h-3zM161 522h3v1h-3zM167 522h3v1h-3zM173 522h3v1h-3zM179 522h3v1h-3zM185 522h3v1h-3zM191 522h3v1h-3zM197 522h3v1h-3zM203 522h3v1h-3zM209 522h3v1h-3zM215 522h3v1h-3zM221 522h3v1h-3zM227 522h3v1h-3zM233 522h3v1h-3zM239 522h3v1h-3zM245 522h3v1h-3zM251 522h3v1h-3zM257 522h3v1h-3zM263 522h3v1h-3zM269 522h3v1h-3zM275 522h3v1h-3zM281 522h3v1h-3zM287 522h3v1h-3zM293 522h3v1h-3zM299 522h3v1h-3zM305 522h3v1h-3zM311 522h3v1h-3zM317 522h3v1h-3zM323 522h3v1h-3zM329 522h3v1h-3zM335 522h3v1h-3zM341 522h3v1h-3zM347 522h3v1h-3zM353 522h3v1h-3zM359 522h3v1h-3zM365 522h3v1h-3zM371 522h3v1h-3zM377 522h3v1h-3zM383 522h3v1h-3zM389 522h3v1h-3zM395 522h3v1h-3zM401 522h3v1h-3zM407 522h3v1h-3zM413 522h3v1h-3zM419 522h3v1h-3zM425 522h3v1h-3zM431 522h3v1h-3zM437 522h3v1h-3zM443 522h3v1h-3zM449 522h3v1h-3zM455 522h3v1h-3zM461 522h3v1h-3zM467 522h3v1h-3zM473 522h3v1h-3zM479 522h3v1h-3zM485 522h3v1h-3zM491 522h3v1h-3zM497 522h3v1h-3zM503 522h3v1h-3zM509 522h3v1h-3zM515 522h3v1h-3zM521 522h3v1h-3zM527 522h3v1h-3zM533 522h3v1h-3zM539 522h3v1h-3zM545 522h3v1h-3zM551 522h3v1h-3zM557 522h3v1h-3zM563 522h3v1h-3zM569 522h3v1h-3zM575 522h3v1h-3zM581 522h3v1h-3zM587 522h3v1h-3zM593 522h3v1h-3zM599 522h3v1h-3zM605 522h3v1h-3zM611 522h3v1h-3zM617 522h3v1h-3zM623 522h3v1h-3zM629 522h3v1h-3zM635 522h3v1h-3zM641 522h3v1h-3zM647 522h3v1h-3zM653 522h3v1h-3zM659 522h3v1h-3zM665 522h3v1h-3zM671 522h3v1h-3zM677 522h3v1h-3zM683 522h3v1h-3zM689 522h3v1h-3zM695 522h3v1h-3zM701 522h3v1h-3zM707 522h3v1h-3zM713 522h3v1h-3zM719 522h3v1h-3zM725 522h3v1h-3zM731 522h3v1h-3zM737 522h3v1h-3zM743 522h3v1h-3zM749 522h3v1h-3zM755 522h3v1h-3zM761 522h3v1h-3zM767 522h3v1h-3zM773 522h3v1h-3zM779 522h3v1h-3zM785 522h3v1h-3zM791 522h3v1h-3zM797 522h3v1h-3zM803 522h3v1h-3zM809 522h3v1h-3zM815 522h3v1h-3zM821 522h3v1h-3zM827 522h3v1h-3zM833 522h3v1h-3zM839 522h3v1h-3zM845 522h3v1h-3zM851 522h3v1h-3zM857 522h3v1h-3zM863 522h3v1h-3zM869 522h3v1h-3zM875 522h3v1h-3zM881 522h3v1h-3zM887 522h3v1h-3zM893 522h3v1h-3zM899 522h3v1h-3zM905 522h3v1h-3zM911 522h3v1h-3zM917 522h3v1h-3zM923 522h3v1h-3zM929 522h3v1h-3zM935 522h3v1h-3zM941 522h3v1h-3zM947 522h3v1h-3zM953 522h3v1h-3zM959 522h3v1h-3zM965 522h3v1h-3zM971 522h3v1h-3zM977 522h3v1h-3zM983 522h3v1h-3zM989 522h3v1h-3zM995 522h3v1h-3zM1001 522h3v1h-3zM1007 522h3v1h-3zM1013 522h3v1h-3zM1019 522h3v1h-3zM1025 522h3v1h-3zM1031 522h3v1h-3zM1037 522h3v1h-3zM1043 522h3v1h-3zM1049 522h3v1h-3zM1055 522h3v1h-3zM1061 522h3v1h-3zM1067 522h3v1h-3zM1073 522h3v1h-3zM1079 522h3v1h-3zM1085 522h3v1h-3zM1091 522h3v1h-3zM1097 522h3v1h-3zM1103 522h3v1h-3zM1109 522h3v1h-3zM1115 522h3v1h-3zM1121 522h3v1h-3zM1127 522h3v1h-3zM1133 522h3v1h-3zM1139 522h3v1h-3zM1145 522h3v1h-3zM1151 522h3v1h-3zM1157 522h3v1h-3zM1163 522h3v1h-3zM1169 522h3v1h-3zM1175 522h3v1h-3zM1181 522h3v1h-3zM1187 522h3v1h-3zM1193 522h3v1h-3zM1199 522h3v1h-3zM1205 522h3v1h-3zM1211 522h3v1h-3zM1217 522h3v1h-3zM1223 522h3v1h-3zM1229 522h3v1h-3zM1235 522h3v1h-3zM1241 522h3v1h-3zM1247 522h3v1h-3zM1253 522h3v1h-3zM1259 522h3v1h-3zM1265 522h3v1h-3zM1271 522h3v1h-3zM1277 522h3v1h-3zM1283 522h3v1h-3zM1289 522h3v1h-3zM1295 522h3v1h-3zM1301 522h3v1h-3zM1307 522h3v1h-3zM1313 522h3v1h-3zM1319 522h3v1h-3zM1325 522h3v1h-3zM1331 522h3v1h-3zM1337 522h3v1h-3zM1343 522h3v1h-3zM1349 522h3v1h-3zM1355 522h3v1h-3zM1361 522h3v1h-3zM1367 522h3v1h-3zM1373 522h3v1h-3zM1379 522h3v1h-3zM1385 522h3v1h-3zM1391 522h3v1h-3zM1397 522h3v1h-3zM1403 522h3v1h-3zM1409 522h3v1h-3zM1415 522h3v1h-3zM1421 522h3v1h-3zM1427 522h3v1h-3zM1433 522h3v1h-3zM1439 522h3v1h-3zM1445 522h3v1h-3zM1451 522h3v1h-3zM1457 522h3v1h-3zM1463 522h3v1h-3zM1469 522h3v1h-3zM1475 522h3v1h-3zM1481 522h3v1h-3zM1487 522h3v1h-3zM1493 522h3v1h-3zM1499 522h3v1h-3zM1505 522h3v1h-3zM1511 522h3v1h-3zM1517 522h3v1h-3zM5 587h3v1h-3zM11 587h3v1h-3zM17 587h3v1h-3zM23 587h3v1h-3zM29 587h3v1h-3zM35 587h3v1h-3zM41 587h3v1h-3zM47 587h3v1h-3zM53 587h3v1h-3zM59 587h3v1h-3zM65 587h3v1h-3zM71 587h3v1h-3zM77 587h3v1h-3zM83 587h3v1h-3zM89 587h3v1h-3zM95 587h3v1h-3zM101 587h3v1h-3zM107 587h3v1h-3zM113 587h3v1h-3zM119 587h3v1h-3zM125 587h3v1h-3zM131 587h3v1h-3zM137 587h3v1h-3zM143 587h3v1h-3zM149 587h3v1h-3zM155 587h3v1h-3zM161 587h3v1h-3zM167 587h3v1h-3zM173 587h3v1h-3zM179 587h3v1h-3zM185 587h3v1h-3zM191 587h3v1h-3zM197 587h3v1h-3zM203 587h3v1h-3zM209 587h3v1h-3zM215 587h3v1h-3zM221 587h3v1h-3zM227 587h3v1h-3zM233 587h3v1h-3zM239 587h3v1h-3zM245 587h3v1h-3zM251 587h3v1h-3zM257 587h3v1h-3zM263 587h3v1h-3zM269 587h3v1h-3zM275 587h3v1h-3zM281 587h3v1h-3zM287 587h3v1h-3zM293 587h3v1h-3zM299 587h3v1h-3zM305 587h3v1h-3zM311 587h3v1h-3zM317 587h3v1h-3zM323 587h3v1h-3zM329 587h3v1h-3zM335 587h3v1h-3zM341 587h3v1h-3zM347 587h3v1h-3zM353 587h3v1h-3zM359 587h3v1h-3zM365 587h3v1h-3zM371 587h3v1h-3zM377 587h3v1h-3zM383 587h3v1h-3zM389 587h3v1h-3zM395 587h3v1h-3zM401 587h3v1h-3zM407 587h3v1h-3zM413 587h3v1h-3zM419 587h3v1h-3zM425 587h3v1h-3zM431 587h3v1h-3zM437 587h3v1h-3zM443 587h3v1h-3zM449 587h3v1h-3zM455 587h3v1h-3zM461 587h3v1h-3zM467 587h3v1h-3zM473 587h3v1h-3zM479 587h3v1h-3zM485 587h3v1h-3zM491 587h3v1h-3zM497 587h3v1h-3zM503 587h3v1h-3zM509 587h3v1h-3zM515 587h3v1h-3zM521 587h3v1h-3zM527 587h3v1h-3zM533 587h3v1h-3zM539 587h3v1h-3zM545 587h3v1h-3zM551 587h3v1h-3zM557 587h3v1h-3zM563 587h3v1h-3zM569 587h3v1h-3zM575 587h3v1h-3zM581 587h3v1h-3zM587 587h3v1h-3zM593 587h3v1h-3zM599 587h3v1h-3zM605 587h3v1h-3zM611 587h3v1h-3zM617 587h3v1h-3zM623 587h3v1h-3zM629 587h3v1h-3zM635 587h3v1h-3zM641 587h3v1h-3zM647 587h3v1h-3zM653 587h3v1h-3zM659 587h3v1h-3zM665 587h3v1h-3zM671 587h3v1h-3zM677 587h3v1h-3zM683 587h3v1h-3zM689 587h3v1h-3zM695 587h3v1h-3zM701 587h3v1h-3zM707 587h3v1h-3zM713 587h3v1h-3zM719 587h3v1h-3zM725 587h3v1h-3zM731 587h3v1h-3zM737 587h3v1h-3zM743 587h3v1h-3zM749 587h3v1h-3zM755 587h3v1h-3zM761 587h3v1h-3zM767 587h3v1h-3zM773 587h3v1h-3zM779 587h3v1h-3zM785 587h3v1h-3zM791 587h3v1h-3zM797 587h3v1h-3zM803 587h3v1h-3zM809 587h3v1h-3zM815 587h3v1h-3zM821 587h3v1h-3zM827 587h3v1h-3zM833 587h3v1h-3zM839 587h3v1h-3zM845 587h3v1h-3zM851 587h3v1h-3zM857 587h3v1h-3zM863 587h3v1h-3zM869 587h3v1h-3zM875 587h3v1h-3zM881 587h3v1h-3zM887 587h3v1h-3zM893 587h3v1h-3zM899 587h3v1h-3zM905 587h3v1h-3zM911 587h3v1h-3zM917 587h3v1h-3zM923 587h3v1h-3zM929 587h3v1h-3zM935 587h3v1h-3zM941 587h3v1h-3zM947 587h3v1h-3zM953 587h3v1h-3zM959 587h3v1h-3zM965 587h3v1h-3zM971 587h3v1h-3zM977 587h3v1h-3zM983 587h3v1h-3zM989 587h3v1h-3zM995 587h3v1h-3zM1001 587h3v1h-3zM1007 587h3v1h-3zM1013 587h3v1h-3zM1019 587h3v1h-3zM1025 587h3v1h-3zM1031 587h3v1h-3zM1037 587h3v1h-3zM1043 587h3v1h-3zM1049 587h3v1h-3zM1055 587h3v1h-3zM1061 587h3v1h-3zM1067 587h3v1h-3zM1073 587h3v1h-3zM1079 587h3v1h-3zM1085 587h3v1h-3zM1091 587h3v1h-3zM1097 587h3v1h-3zM1103 587h3v1h-3zM1109 587h3v1h-3zM1115 587h3v1h-3zM1121 587h3v1h-3zM1127 587h3v1h-3zM1133 587h3v1h-3zM1139 587h3v1h-3zM1145 587h3v1h-3zM1151 587h3v1h-3zM1157 587h3v1h-3zM1163 587h3v1h-3zM1169 587h3v1h-3zM1175 587h3v1h-3zM1181 587h3v1h-3zM1187 587h3v1h-3zM1193 587h3v1h-3zM1199 587h3v1h-3zM1205 587h3v1h-3zM1211 587h3v1h-3zM1217 587h3v1h-3zM1223 587h3v1h-3zM1229 587h3v1h-3zM1235 587h3v1h-3zM1241 587h3v1h-3zM1247 587h3v1h-3zM1253 587h3v1h-3zM1259 587h3v1h-3zM1265 587h3v1h-3zM1271 587h3v1h-3zM1277 587h3v1h-3zM1283 587h3v1h-3zM1289 587h3v1h-3zM1295 587h3v1h-3zM1301 587h3v1h-3zM1307 587h3v1h-3zM1313 587h3v1h-3zM1319 587h3v1h-3zM1325 587h3v1h-3zM1331 587h3v1h-3zM1337 587h3v1h-3zM1343 587h3v1h-3zM1349 587h3v1h-3zM1355 587h3v1h-3zM1361 587h3v1h-3zM1367 587h3v1h-3zM1373 587h3v1h-3zM1379 587h3v1h-3zM1385 587h3v1h-3zM1391 587h3v1h-3zM1397 587h3v1h-3zM1403 587h3v1h-3zM1409 587h3v1h-3zM1415 587h3v1h-3zM1421 587h3v1h-3zM1427 587h3v1h-3zM1433 587h3v1h-3zM1439 587h3v1h-3zM1445 587h3v1h-3zM1451 587h3v1h-3zM1457 587h3v1h-3zM1463 587h3v1h-3zM1469 587h3v1h-3zM1475 587h3v1h-3zM1481 587h3v1h-3zM1487 587h3v1h-3zM1493 587h3v1h-3zM1499 587h3v1h-3zM1505 587h3v1h-3zM1511 587h3v1h-3zM1517 587h3v1h-3zM5 676h3v1h-3zM11 676h3v1h-3zM17 676h3v1h-3zM23 676h3v1h-3zM29 676h3v1h-3zM35 676h3v1h-3zM41 676h3v1h-3zM47 676h3v1h-3zM53 676h3v1h-3zM59 676h3v1h-3zM65 676h3v1h-3zM71 676h3v1h-3zM77 676h3v1h-3zM83 676h3v1h-3zM89 676h3v1h-3zM95 676h3v1h-3zM101 676h3v1h-3zM107 676h3v1h-3zM113 676h3v1h-3zM119 676h3v1h-3zM125 676h3v1h-3zM131 676h3v1h-3zM137 676h3v1h-3zM143 676h3v1h-3zM149 676h3v1h-3zM155 676h3v1h-3zM161 676h3v1h-3zM167 676h3v1h-3zM173 676h3v1h-3zM179 676h3v1h-3zM185 676h3v1h-3zM191 676h3v1h-3zM197 676h3v1h-3zM203 676h3v1h-3zM209 676h3v1h-3zM215 676h3v1h-3zM221 676h3v1h-3zM227 676h3v1h-3zM233 676h3v1h-3zM239 676h3v1h-3zM245 676h3v1h-3zM251 676h3v1h-3zM257 676h3v1h-3zM263 676h3v1h-3zM269 676h3v1h-3zM275 676h3v1h-3zM281 676h3v1h-3zM287 676h3v1h-3zM293 676h3v1h-3zM299 676h3v1h-3zM305 676h3v1h-3zM311 676h3v1h-3zM317 676h3v1h-3zM323 676h3v1h-3zM329 676h3v1h-3zM335 676h3v1h-3zM341 676h3v1h-3zM347 676h3v1h-3zM353 676h3v1h-3zM359 676h3v1h-3zM365 676h3v1h-3zM371 676h3v1h-3zM377 676h3v1h-3zM383 676h3v1h-3zM389 676h3v1h-3zM395 676h3v1h-3zM401 676h3v1h-3zM407 676h3v1h-3zM413 676h3v1h-3zM419 676h3v1h-3zM425 676h3v1h-3zM431 676h3v1h-3zM437 676h3v1h-3zM443 676h3v1h-3zM449 676h3v1h-3zM455 676h3v1h-3zM461 676h3v1h-3zM467 676h3v1h-3zM473 676h3v1h-3zM479 676h3v1h-3zM485 676h3v1h-3zM491 676h3v1h-3zM497 676h3v1h-3zM503 676h3v1h-3zM509 676h3v1h-3zM515 676h3v1h-3zM521 676h3v1h-3zM527 676h3v1h-3zM533 676h3v1h-3zM539 676h3v1h-3zM545 676h3v1h-3zM551 676h3v1h-3zM557 676h3v1h-3zM563 676h3v1h-3zM569 676h3v1h-3zM575 676h3v1h-3zM581 676h3v1h-3zM587 676h3v1h-3zM593 676h3v1h-3zM599 676h3v1h-3zM605 676h3v1h-3zM611 676h3v1h-3zM617 676h3v1h-3zM623 676h3v1h-3zM629 676h3v1h-3zM635 676h3v1h-3zM641 676h3v1h-3zM647 676h3v1h-3zM653 676h3v1h-3zM659 676h3v1h-3zM665 676h3v1h-3zM671 676h3v1h-3zM677 676h3v1h-3zM683 676h3v1h-3zM689 676h3v1h-3zM695 676h3v1h-3zM701 676h3v1h-3zM707 676h3v1h-3zM713 676h3v1h-3zM719 676h3v1h-3zM725 676h3v1h-3zM731 676h3v1h-3zM737 676h3v1h-3zM743 676h3v1h-3zM749 676h3v1h-3zM755 676h3v1h-3zM761 676h3v1h-3zM767 676h3v1h-3zM773 676h3v1h-3zM779 676h3v1h-3zM785 676h3v1h-3zM791 676h3v1h-3zM797 676h3v1h-3zM803 676h3v1h-3zM809 676h3v1h-3zM815 676h3v1h-3zM821 676h3v1h-3zM827 676h3v1h-3zM833 676h3v1h-3zM839 676h3v1h-3zM845 676h3v1h-3zM851 676h3v1h-3zM857 676h3v1h-3zM863 676h3v1h-3zM869 676h3v1h-3zM875 676h3v1h-3zM881 676h3v1h-3zM887 676h3v1h-3zM893 676h3v1h-3zM899 676h3v1h-3zM905 676h3v1h-3zM911 676h3v1h-3zM917 676h3v1h-3zM923 676h3v1h-3zM929 676h3v1h-3zM935 676h3v1h-3zM941 676h3v1h-3zM947 676h3v1h-3zM953 676h3v1h-3zM959 676h3v1h-3zM965 676h3v1h-3zM971 676h3v1h-3zM977 676h3v1h-3zM983 676h3v1h-3zM989 676h3v1h-3zM995 676h3v1h-3zM1001 676h3v1h-3zM1007 676h3v1h-3zM1013 676h3v1h-3zM1019 676h3v1h-3zM1025 676h3v1h-3zM1031 676h3v1h-3zM1037 676h3v1h-3zM1043 676h3v1h-3zM1049 676h3v1h-3zM1055 676h3v1h-3zM1061 676h3v1h-3zM1067 676h3v1h-3zM1073 676h3v1h-3zM1079 676h3v1h-3zM1085 676h3v1h-3zM1091 676h3v1h-3zM1097 676h3v1h-3zM1103 676h3v1h-3zM1109 676h3v1h-3zM1115 676h3v1h-3zM1121 676h3v1h-3zM1127 676h3v1h-3zM1133 676h3v1h-3zM1139 676h3v1h-3zM1145 676h3v1h-3zM1151 676h3v1h-3zM1157 676h3v1h-3zM1163 676h3v1h-3zM1169 676h3v1h-3zM1175 676h3v1h-3zM1181 676h3v1h-3zM1187 676h3v1h-3zM1193 676h3v1h-3zM1199 676h3v1h-3zM1205 676h3v1h-3zM1211 676h3v1h-3zM1217 676h3v1h-3zM1223 676h3v1h-3zM1229 676h3v1h-3zM1235 676h3v1h-3zM1241 676h3v1h-3zM1247 676h3v1h-3zM1253 676h3v1h-3zM1259 676h3v1h-3zM1265 676h3v1h-3zM1271 676h3v1h-3zM1277 676h3v1h-3zM1283 676h3v1h-3zM1289 676h3v1h-3zM1295 676h3v1h-3zM1301 676h3v1h-3zM1307 676h3v1h-3zM1313 676h3v1h-3zM1319 676h3v1h-3zM1325 676h3v1h-3zM1331 676h3v1h-3zM1337 676h3v1h-3zM1343 676h3v1h-3zM1349 676h3v1h-3zM1355 676h3v1h-3zM1361 676h3v1h-3zM1367 676h3v1h-3zM1373 676h3v1h-3zM1379 676h3v1h-3zM1385 676h3v1h-3zM1391 676h3v1h-3zM1397 676h3v1h-3zM1403 676h3v1h-3zM1409 676h3v1h-3zM1415 676h3v1h-3zM1421 676h3v1h-3zM1427 676h3v1h-3zM1433 676h3v1h-3zM1439 676h3v1h-3zM1445 676h3v1h-3zM1451 676h3v1h-3zM1457 676h3v1h-3zM1463 676h3v1h-3zM1469 676h3v1h-3zM1475 676h3v1h-3zM1481 676h3v1h-3zM1487 676h3v1h-3zM1493 676h3v1h-3zM1499 676h3v1h-3zM1505 676h3v1h-3zM1511 676h3v1h-3zM1517 676h3v1h-3z" fill="#696969"/>
<rect x="4" y="327" width="1516" height="1" fill="#696969"/>
<defs><clipPath id="cm"><rect x="4" y="6" width="1516" height="616"/></clipPath></defs><g clip-path="url(#cm)">
<path d="M4 70h1v33h-1zM12 72h1v20h-1zM10 75h5v1h-5zM20 45h1v19h-1zM28 51h1v18h-1zM36 36h1v34h-1zM44 42h1v18h-1zM52 51h1v21h-1zM60 37h1v24h-1zM68 41h1v26h-1zM76 49h1v18h-1zM84 73h1v36h-1zM92 89h1v17h-1zM100 69h1v20h-1zM108 56h1v20h-1zM116 70h1v32h-1zM124 101h1v38h-1zM132 55h1v36h-1zM130 90h5v1h-5zM140 80h1v16h-1zM148 82h1v35h-1zM156 86h1v22h-1zM164 57h1v23h-1zM172 56h1v29h-1zM180 76h1v26h-1zM188 79h1v17h-1zM196 67h1v32h-1zM204 92h1v20h-1zM212 111h1v29h-1zM220 129h1v19h-1zM228 164h1v52h-1zM236 204h1v45h-1zM244 216h1v88h-1zM252 247h1v70h-1zM260 270h1v56h-1zM268 316h1v128h-1zM276 255h1v26h-1zM284 265h1v26h-1zM292 301h1v55h-1zM300 253h1v110h-1zM308 283h1v52h-1zM316 307h1v48h-1zM324 361h1v86h-1zM332 415h1v102h-1zM340 446h1v63h-1zM348 354h1v109h-1zM356 283h1v51h-1zM364 277h1v54h-1zM372 322h1v28h-1zM380 292h1v58h-1zM388 299h1v27h-1zM396 313h1v33h-1zM404 306h1v27h-1zM412 290h1v38h-1zM420 294h1v32h-1zM428 289h1v33h-1zM436 316h1v24h-1zM434 321h5v1h-5zM444 298h1v31h-1zM452 305h1v36h-1zM460 335h1v36h-1zM468 358h1v66h-1zM476 371h1v20h-1zM484 352h1v36h-1zM492 367h1v25h-1zM500 320h1v45h-1zM508 293h1v28h-1zM516 298h1v24h-1zM524 310h1v13h-1zM532 269h1v69h-1zM540 281h1v17h-1zM548 288h1v28h-1zM546 302h5v1h-5zM556 291h1v26h-1zM554 302h5v1h-5zM564 290h1v36h-1zM572 315h1v23h-1zM580 312h1v36h-1zM588 307h1v21h-1zM596 330h1v70h-1zM604 375h1v28h-1zM612 376h1v25h-1zM620 343h1v63h-1zM628 343h1v24h-1zM636 332h1v35h-1zM644 328h1v29h-1zM652 317h1v35h-1zM660 334h1v28h-1zM668 323h1v30h-1zM676 352h1v34h-1zM684 353h1v21h-1zM692 337h1v37h-1zM700 361h1v32h-1zM708 369h1v40h-1zM716 383h1v42h-1zM724 406h1v49h-1zM732 418h1v60h-1zM740 445h1v46h-1zM748 431h1v28h-1zM756 482h1v37h-1zM764 494h1v94h-1zM772 536h1v55h-1zM780 539h1v68h-1zM788 561h1v45h-1zM796 533h1v38h-1zM804 506h1v39h-1zM812 512h1v36h-1zM820 496h1v37h-1zM828 445h1v77h-1zM836 441h1v26h-1zM844 441h1v23h-1zM852 497h1v36h-1zM860 512h1v28h-1zM868 527h1v29h-1zM876 538h1v34h-1zM884 508h1v92h-1zM892 503h1v36h-1zM900 461h1v56h-1zM908 445h1v47h-1zM916 477h1v26h-1zM924 474h1v36h-1zM932 461h1v35h-1zM940 471h1v23h-1zM948 450h1v52h-1zM956 488h1v21h-1zM964 462h1v37h-1zM972 460h1v15h-1zM980 460h1v32h-1zM988 450h1v32h-1zM996 482h1v33h-1zM1004 475h1v24h-1zM1012 423h1v38h-1zM1020 416h1v22h-1zM1028 418h1v40h-1zM1036 442h1v20h-1zM1044 445h1v33h-1zM1052 473h1v28h-1zM1060 484h1v21h-1zM1058 491h5v1h-5zM1068 485h1v10h-1zM1076 463h1v59h-1zM1084 458h1v27h-1zM1092 433h1v26h-1zM1090 456h5v1h-5zM1100 449h1v33h-1zM1108 441h1v25h-1zM1116 451h1v17h-1zM1124 420h1v41h-1zM1132 404h1v20h-1zM1140 410h1v15h-1zM1148 413h1v23h-1zM1156 412h1v28h-1zM1164 410h1v15h-1zM1172 368h1v69h-1zM1180 363h1v20h-1zM1188 343h1v32h-1zM1196 343h1v23h-1zM1204 323h1v44h-1zM1212 325h1v40h-1z" fill="#000"/>
<path d="M2 76h5v23h-5zM18 54h5v5h-5zM26 55h5v7h-5zM34 42h5v20h-5zM42 42h5v16h-5zM50 59h5v11h-5zM58 38h5v21h-5zM66 43h5v19h-5zM74 52h5v10h-5zM82 73h5v32h-5zM90 89h5v16h-5zM98 75h5v9h-5zM106 59h5v17h-5zM114 77h5v24h-5zM122 101h5v13h-5zM138 88h5v3h-5zM146 92h5v9h-5zM154 86h5v15h-5zM162 69h5v11h-5zM170 64h5v15h-5zM178 78h5v16h-5zM186 86h5v8h-5zM194 70h5v26h-5zM202 95h5v10h-5zM210 131h5v4h-5zM218 131h5v5h-5zM226 167h5v42h-5zM234 207h5v34h-5zM242 223h5v60h-5zM250 282h5v25h-5zM258 286h5v36h-5zM266 323h5v7h-5zM274 265h5v16h-5zM282 265h5v23h-5zM290 324h5v26h-5zM298 256h5v94h-5zM306 298h5v23h-5zM314 320h5v35h-5zM322 391h5v24h-5zM330 415h5v99h-5zM338 461h5v3h-5zM346 368h5v95h-5zM354 283h5v29h-5zM362 284h5v40h-5zM370 337h5v6h-5zM378 308h5v35h-5zM386 306h5v17h-5zM394 319h5v4h-5zM402 313h5v6h-5zM410 314h5v7h-5zM418 306h5v16h-5zM426 303h5v19h-5zM442 317h5v5h-5zM450 316h5v25h-5zM458 336h5v35h-5zM466 384h5v10h-5zM474 375h5v10h-5zM482 368h5v20h-5zM490 385h5v3h-5zM498 320h5v43h-5zM506 294h5v27h-5zM514 306h5v9h-5zM522 315h5v3h-5zM530 288h5v48h-5zM538 285h5v3h-5zM562 316h5v10h-5zM570 325h5v7h-5zM578 323h5v4h-5zM586 307h5v17h-5zM594 336h5v43h-5zM602 378h5v16h-5zM610 387h5v14h-5zM618 344h5v57h-5zM626 356h5v4h-5zM634 356h5v9h-5zM642 343h5v9h-5zM650 342h5v10h-5zM658 348h5v8h-5zM666 343h5v6h-5zM674 366h5v4h-5zM682 356h5v9h-5zM690 353h5v12h-5zM698 364h5v8h-5zM706 374h5v13h-5zM714 387h5v38h-5zM722 424h5v26h-5zM730 450h5v12h-5zM738 458h5v21h-5zM746 451h5v5h-5zM754 502h5v7h-5zM762 508h5v76h-5zM770 539h5v30h-5zM778 539h5v62h-5zM786 571h5v35h-5zM794 533h5v38h-5zM802 524h5v18h-5zM810 513h5v13h-5zM818 501h5v21h-5zM826 448h5v74h-5zM834 441h5v6h-5zM842 441h5v22h-5zM850 504h5v28h-5zM858 531h5v5h-5zM866 545h5v3h-5zM874 545h5v10h-5zM882 541h5v40h-5zM890 515h5v24h-5zM898 464h5v50h-5zM906 464h5v25h-5zM914 479h5v17h-5zM922 479h5v19h-5zM930 472h5v13h-5zM938 475h5v10h-5zM946 455h5v47h-5zM954 500h5v4h-5zM962 469h5v22h-5zM970 462h5v10h-5zM978 460h5v19h-5zM986 470h5v9h-5zM994 487h5v26h-5zM1002 477h5v11h-5zM1010 432h5v29h-5zM1018 417h5v16h-5zM1026 418h5v40h-5zM1034 449h5v11h-5zM1042 447h5v27h-5zM1050 473h5v26h-5zM1066 486h5v5h-5zM1074 463h5v25h-5zM1082 463h5v17h-5zM1098 456h5v14h-5zM1106 456h5v6h-5zM1114 458h5v4h-5zM1122 420h5v37h-5zM1130 414h5v7h-5zM1138 414h5v2h-5zM1146 415h5v5h-5zM1154 418h5v15h-5zM1162 413h5v4h-5zM1170 368h5v48h-5zM1178 365h5v4h-5zM1186 343h5v31h-5zM1194 343h5v17h-5zM1202 350h5v9h-5zM1210 327h5v33h-5z" fill="#000"/>
<path d="M3 77h3v21h-3zM19 55h3v3h-3zM35 43h3v18h-3zM51 60h3v9h-3zM59 39h3v19h-3zM75 53h3v8h-3zM91 90h3v14h-3zM99 76h3v7h-3zM107 60h3v15h-3zM139 89h3v1h-3zM155 87h3v13h-3zM171 65h3v13h-3zM187 87h3v6h-3zM211 132h3v2h-3zM275 266h3v14h-3zM299 257h3v92h-3zM347 369h3v93h-3zM355 284h3v27h-3zM379 309h3v33h-3zM395 320h3v2h-3zM403 314h3v4h-3zM427 304h3v17h-3zM443 318h3v3h-3zM467 385h3v8h-3zM475 376h3v8h-3zM491 386h3v1h-3zM499 321h3v41h-3zM507 295h3v25h-3zM531 289h3v46h-3zM539 286h3v1h-3zM579 324h3v2h-3zM587 308h3v15h-3zM619 345h3v55h-3zM627 357h3v2h-3zM651 343h3v8h-3zM659 349h3v6h-3zM667 344h3v4h-3zM675 367h3v2h-3zM683 357h3v7h-3zM739 459h3v19h-3zM747 452h3v3h-3zM771 540h3v28h-3zM787 572h3v33h-3zM795 534h3v36h-3zM803 525h3v16h-3zM811 514h3v11h-3zM827 449h3v72h-3zM835 442h3v4h-3zM867 546h3v1h-3zM883 542h3v38h-3zM891 516h3v22h-3zM899 465h3v48h-3zM915 480h3v15h-3zM939 476h3v8h-3zM963 470h3v20h-3zM971 463h3v8h-3zM987 471h3v7h-3zM995 488h3v24h-3zM1003 478h3v9h-3zM1011 433h3v27h-3zM1019 418h3v14h-3zM1035 450h3v9h-3zM1067 487h3v3h-3zM1075 464h3v23h-3zM1115 459h3v2h-3zM1123 421h3v35h-3zM1131 415h3v5h-3zM1155 419h3v13h-3zM1163 414h3v2h-3zM1171 369h3v46h-3zM1179 366h3v2h-3zM1187 344h3v29h-3zM1211 328h3v31h-3z" fill="#ff0000"/>
<path d="M27 56h3v5h-3zM43 43h3v14h-3zM67 44h3v17h-3zM83 74h3v30h-3zM115 78h3v22h-3zM123 102h3v11h-3zM147 93h3v7h-3zM163 70h3v9h-3zM179 79h3v14h-3zM195 71h3v24h-3zM203 96h3v8h-3zM219 132h3v3h-3zM227 168h3v40h-3zM235 208h3v32h-3zM243 224h3v58h-3zM251 283h3v23h-3zM259 287h3v34h-3zM267 324h3v5h-3zM283 266h3v21h-3zM291 325h3v24h-3zM307 299h3v21h-3zM315 321h3v33h-3zM323 392h3v22h-3zM331 416h3v97h-3zM339 462h3v1h-3zM363 285h3v38h-3zM371 338h3v4h-3zM387 307h3v15h-3zM411 315h3v5h-3zM419 307h3v14h-3zM451 317h3v23h-3zM459 337h3v33h-3zM483 369h3v18h-3zM515 307h3v7h-3zM523 316h3v1h-3zM563 317h3v8h-3zM571 326h3v5h-3zM595 337h3v41h-3zM603 379h3v14h-3zM611 388h3v12h-3zM635 357h3v7h-3zM643 344h3v7h-3zM691 354h3v10h-3zM699 365h3v6h-3zM707 375h3v11h-3zM715 388h3v36h-3zM723 425h3v24h-3zM731 451h3v10h-3zM755 503h3v5h-3zM763 509h3v74h-3zM779 540h3v60h-3zM819 502h3v19h-3zM843 442h3v20h-3zM851 505h3v26h-3zM859 532h3v3h-3zM875 546h3v8h-3zM907 465h3v23h-3zM923 480h3v17h-3zM931 473h3v11h-3zM947 456h3v45h-3zM955 501h3v2h-3zM979 461h3v17h-3zM1027 419h3v38h-3zM1043 448h3v25h-3zM1051 474h3v24h-3zM1083 464h3v15h-3zM1099 457h3v12h-3zM1107 457h3v4h-3zM1147 416h3v3h-3zM1195 344h3v15h-3zM1203 351h3v7h-3z" fill="#00ff00"/>
</g>
<rect x="4" y="339" width="1516" height="4" fill="#ff00ff"/>
<path d="M4 676h3v40h-3zM10 676h5v39h-5zM18 676h5v35h-5zM26 676h5v32h-5zM34 676h5v28h-5zM42 676h5v25h-5zM50 676h5v23h-5zM58 676h5v20h-5zM66 676h5v19h-5zM74 676h5v17h-5zM82 676h5v21h-5zM90 676h5v22h-5zM98 676h5v20h-5zM106 676h5v19h-5zM114 676h5v20h-5zM122 676h5v24h-5zM130 676h5v22h-5zM138 676h5v21h-5zM146 676h5v22h-5zM154 676h5v20h-5zM162 676h5v19h-5zM170 676h5v16h-5zM178 676h5v16h-5zM186 676h5v15h-5zM194 676h5v15h-5zM202 676h5v16h-5zM210 676h5v18h-5zM218 676h5v22h-5zM226 676h5v32h-5zM234 676h5v42h-5zM242 676h5v53h-5zM250 676h5v66h-5zM258 676h5v75h-5zM266 676h5v82h-5zM274 676h5v80h-5zM282 676h5v80h-5zM290 676h5v87h-5zM298 676h5v80h-5zM306 676h5v81h-5zM314 676h5v85h-5zM322 676h5v93h-5zM330 676h5v107h-5zM338 676h5v114h-5zM346 676h5v107h-5zM354 676h5v92h-5zM362 676h5v82h-5zM370 676h5v77h-5zM378 676h5v68h-5zM386 676h5v61h-5zM394 676h5v54h-5zM402 676h5v50h-5zM410 676h5v45h-5zM418 676h5v41h-5zM426 676h5v35h-5zM434 676h5v33h-5zM442 676h5v30h-5zM450 676h5v30h-5zM458 676h5v32h-5zM466 676h5v35h-5zM474 676h5v36h-5zM482 676h5v38h-5zM490 676h5v39h-5zM498 676h5v32h-5zM506 676h5v24h-5zM514 676h5v18h-5zM522 676h5v16h-5zM530 676h5v9h-5zM538 676h5v4h-5zM546 676h5v2h-5zM554 676h5v1h-5zM570 676h5v2h-5zM578 676h5v4h-5zM586 676h5v2h-5zM594 676h5v8h-5zM602 676h5v15h-5zM610 676h5v20h-5zM618 676h5v18h-5zM626 676h5v18h-5zM634 676h5v18h-5zM642 676h5v17h-5zM650 676h5v15h-5zM658 676h5v14h-5zM666 676h5v12h-5zM674 676h5v12h-5zM682 676h5v13h-5zM690 676h5v13h-5zM698 676h5v13h-5zM706 676h5v16h-5zM714 676h5v22h-5zM722 676h5v28h-5zM730 676h5v34h-5zM738 676h5v38h-5zM746 676h5v40h-5zM754 676h5v48h-5zM762 676h5v60h-5zM770 676h5v65h-5zM778 676h5v75h-5zM786 676h5v78h-5zM794 676h5v76h-5zM802 676h5v72h-5zM810 676h5v68h-5zM818 676h5v63h-5zM826 676h5v53h-5zM834 676h5v43h-5zM842 676h5v36h-5zM850 676h5v39h-5zM858 676h5v41h-5zM866 676h5v42h-5zM874 676h5v44h-5zM882 676h5v43h-5zM890 676h5v40h-5zM898 676h5v32h-5zM906 676h5v27h-5zM914 676h5v22h-5zM922 676h5v20h-5zM930 676h5v17h-5zM938 676h5v12h-5zM946 676h5v12h-5zM954 676h5v12h-5zM962 676h5v9h-5zM970 676h5v5h-5zM978 676h5v3h-5zM986 676h5v1h-5zM994 676h5v1h-5zM1010 671h5v5h-5zM1018 665h5v11h-5zM1026 665h5v11h-5zM1034 664h5v12h-5zM1042 666h5v10h-5zM1050 671h5v5h-5zM1058 673h5v3h-5zM1066 675h5v1h-5zM1074 674h5v2h-5zM1082 674h5v2h-5zM1090 673h5v3h-5zM1098 673h5v3h-5zM1106 673h5v3h-5zM1114 671h5v5h-5zM1122 667h5v9h-5zM1130 662h5v14h-5zM1138 659h5v17h-5zM1146 658h5v18h-5zM1154 657h5v19h-5zM1162 655h5v21h-5zM1170 650h5v26h-5zM1178 646h5v30h-5zM1186 640h5v36h-5zM1194 638h5v38h-5zM1202 637h5v39h-5zM1210 633h5v43h-5z" fill="#00ff00"/>
</g>
<polyline points="3,717.6 4,717.6 12,717.6 20,715.8 28,714.0 36,712.2 44,710.4 52,709.0 60,707.6 68,704.6 76,702.0 84,700.0 92,698.6 100,697.3 108,696.3 116,695.7 124,695.8 132,696.1 140,696.3 148,696.9 156,696.8 164,696.5 172,696.0 180,695.7 188,695.2 196,694.2 204,693.4 212,693.2 220,693.1 228,694.4 236,697.0 244,701.1 252,706.6 260,713.3 268,720.7 276,727.8 284,734.7 292,741.9 300,747.2 308,751.5 316,755.1 324,758.2 332,761.7 340,765.3 348,768.3 356,769.6 364,769.0 372,768.7 380,767.3 388,764.6 396,760.3 404,753.9 412,746.2 420,738.9 428,732.6 436,727.1 444,721.8 452,717.6 460,714.3 468,712.1 476,710.6 484,709.8 492,709.6 500,709.2 508,708.1 516,706.9 524,705.3 532,702.9 540,699.5 548,695.8 556,691.7 564,687.5 572,684.2 580,682.0 588,680.2 596,679.3 604,679.9 612,681.5 620,683.2 628,685.1 636,687.0 644,688.7 652,689.9 660,691.3 668,691.7 676,691.5 684,690.8 692,690.3 700,689.7 708,689.5 716,690.1 724,691.5 732,693.7 740,696.5 748,699.6 756,703.4 764,708.5 772,714.3 780,720.9 788,727.0 796,732.4 804,736.7 812,740.0 820,742.6 828,743.2 836,741.3 844,738.2 852,734.2 860,730.1 868,726.3 876,723.1 884,720.4 892,717.8 900,715.4 908,713.7 916,712.0 924,709.9 932,707.2 940,704.0 948,700.5 956,697.1 964,693.7 972,690.7 980,688.1 988,685.8 996,683.8 1004,681.9 1012,680.0 1020,677.4 1028,674.8 1036,672.5 1044,670.9 1052,670.0 1060,669.5 1068,669.3 1076,669.1 1084,669.4 1092,670.3 1100,671.1 1108,672.1 1116,672.7 1124,672.2 1132,670.9 1140,669.2 1148,667.4 1156,665.5 1164,663.5 1172,661.0 1180,658.0 1188,654.6 1196,651.4 1204,648.6 1212,645.7" fill="none" stroke="#ff0000" stroke-width="2" shape-rendering="crispEdges"/>
<g shape-rendering="crispEdges" fill="#000">
<rect x="3" y="5" width="1518" height="1"/><rect x="3" y="622" width="1518" height="1"/>
<rect x="3" y="5" width="1" height="618"/><rect x="1520" y="5" width="1" height="618"/>
<rect x="3" y="624" width="1518" height="1"/><rect x="3" y="797" width="1518" height="1"/>
<rect x="3" y="624" width="1" height="174"/><rect x="1520" y="624" width="1" height="174"/>
<rect x="1521" y="67" width="2" height="1"/>
<rect x="1521" y="132" width="2" height="1"/>
<rect x="1521" y="197" width="2" height="1"/>
<rect x="1521" y="262" width="2" height="1"/>
<rect x="1521" y="327" width="2" height="1"/>
<rect x="1521" y="392" width="2" height="1"/>
<rect x="1521" y="457" width="2" height="1"/>
<rect x="1521" y="522" width="2" height="1"/>
<rect x="1521" y="587" width="2" height="1"/>
<rect x="1521" y="626" width="2" height="1"/><rect x="1521" y="676" width="2" height="1"/><rect x="1521" y="795" width="2" height="1"/>
<rect x="4" y="798" width="1" height="3"/>
<rect x="132" y="798" width="1" height="3"/>
<rect x="260" y="798" width="1" height="3"/>
<rect x="388" y="798" width="1" height="3"/>
<rect x="516" y="798" width="1" height="3"/>
<rect x="644" y="798" width="1" height="3"/>
<rect x="772" y="798" width="1" height="3"/>
<rect x="900" y="798" width="1" height="3"/>
<rect x="1028" y="798" width="1" height="3"/>
<rect x="1156" y="798" width="1" height="3"/>
<rect x="1284" y="798" width="1" height="3"/>
<rect x="1412" y="798" width="1" height="3"/>
</g>
<polygon points="1208,6 1223.5,6 1215.75,14" fill="#696969"/>
<line x1="171.00" y1="61.30" x2="861.9" y2="594.3" stroke="#ff0000" stroke-width="3" stroke-linecap="round"/><polygon points="874.6,604.1 856.6,598.0 864.1,588.2" fill="#ff0000"/>
<line x1="875.54" y1="602.80" x2="1007.1" y2="421.1" stroke="#ff0000" stroke-width="3" stroke-linecap="round"/><polygon points="1016.5,408.1 1011.0,426.3 1000.9,419.0" fill="#ff0000"/>
<line x1="1017.29" y1="409.49" x2="1073.5" y2="509.0" stroke="#ff0000" stroke-width="3" stroke-linecap="round"/><polygon points="1081.4,522.9 1067.1,510.3 1077.9,504.2" fill="#ff0000"/>
<line x1="1083.93" y1="520.70" x2="1224.7" y2="322.4" stroke="#ff0000" stroke-width="3" stroke-linecap="round"/><polygon points="1234,309.4 1228.6,327.7 1218.5,320.5" fill="#ff0000"/>
<line x1="862.00" y1="610.60" x2="1381.8" y2="404.2" stroke="#000000" stroke-width="3" stroke-linecap="round"/><polygon points="1396.7,398.3 1382.3,410.7 1377.7,399.2" fill="#000000"/>
<rect x="1522" y="319" width="54" height="16" fill="#000" shape-rendering="crispEdges"/>
<rect x="1522" y="335" width="54" height="17" fill="#ff00ff" shape-rendering="crispEdges"/>
<polygon points="7,13 18,13 12.5,19" fill="#000"/>
<text x="1523.97" y="640" font-family="Liberation Sans, sans-serif" font-size="14" fill="#000" textLength="36.08" lengthAdjust="spacingAndGlyphs">59.73</text>
<text x="1522.92" y="682" font-family="Liberation Sans, sans-serif" font-size="14" fill="#000" textLength="29.35" lengthAdjust="spacingAndGlyphs">0.00</text>
<text x="1522.93" y="793" font-family="Liberation Sans, sans-serif" font-size="14" fill="#000" textLength="50.58" lengthAdjust="spacingAndGlyphs">-142.96</text>
<text x="1527.00" y="333" font-family="Liberation Sans, sans-serif" font-size="14" fill="#fff" textLength="44.87" lengthAdjust="spacingAndGlyphs">4201.2</text>
<text x="1527.00" y="349" font-family="Liberation Sans, sans-serif" font-size="14" fill="#fff" textLength="44.87" lengthAdjust="spacingAndGlyphs">4180.6</text>
<text x="1527.00" y="73" font-family="Liberation Sans, sans-serif" font-size="14" fill="#000" textLength="44.87" lengthAdjust="spacingAndGlyphs">4603.0</text>
<text x="1527.00" y="138" font-family="Liberation Sans, sans-serif" font-size="14" fill="#000" textLength="44.87" lengthAdjust="spacingAndGlyphs">4502.5</text>
<text x="1527.00" y="203" font-family="Liberation Sans, sans-serif" font-size="14" fill="#000" textLength="44.87" lengthAdjust="spacingAndGlyphs">4402.0</text>
<text x="1527.00" y="268" font-family="Liberation Sans, sans-serif" font-size="14" fill="#000" textLength="44.87" lengthAdjust="spacingAndGlyphs">4301.5</text>
<text x="1527.00" y="398" font-family="Liberation Sans, sans-serif" font-size="14" fill="#000" textLength="44.87" lengthAdjust="spacingAndGlyphs">4102.0</text>
<text x="1527.00" y="463" font-family="Liberation Sans, sans-serif" font-size="14" fill="#000" textLength="44.87" lengthAdjust="spacingAndGlyphs">4001.5</text>
<text x="1525.93" y="528" font-family="Liberation Sans, sans-serif" font-size="14" fill="#000" textLength="45.96" lengthAdjust="spacingAndGlyphs">3901.0</text>
<text x="1525.93" y="593" font-family="Liberation Sans, sans-serif" font-size="14" fill="#000" textLength="45.96" lengthAdjust="spacingAndGlyphs">3800.5</text>
<text x="3.00" y="815" font-family="Liberation Sans, sans-serif" font-size="14" fill="#000" textLength="78.62" lengthAdjust="spacingAndGlyphs">15 Feb 2022</text>
<text x="129.98" y="815" font-family="Liberation Sans, sans-serif" font-size="14" fill="#000" textLength="84.55" lengthAdjust="spacingAndGlyphs">25 Feb 01:30</text>
<text x="257.97" y="815" font-family="Liberation Sans, sans-serif" font-size="14" fill="#000" textLength="76.77" lengthAdjust="spacingAndGlyphs">9 Mar 01:30</text>
<text x="386.99" y="815" font-family="Liberation Sans, sans-serif" font-size="14" fill="#000" textLength="83.52" lengthAdjust="spacingAndGlyphs">21 Mar 01:30</text>
<text x="513.98" y="815" font-family="Liberation Sans, sans-serif" font-size="14" fill="#000" textLength="84.54" lengthAdjust="spacingAndGlyphs">31 Mar 01:30</text>
<text x="642.96" y="815" font-family="Liberation Sans, sans-serif" font-size="14" fill="#000" textLength="82.46" lengthAdjust="spacingAndGlyphs">14 Apr 01:30</text>
<text x="769.96" y="815" font-family="Liberation Sans, sans-serif" font-size="14" fill="#000" textLength="82.46" lengthAdjust="spacingAndGlyphs">26 Apr 01:30</text>
<text x="898.96" y="815" font-family="Liberation Sans, sans-serif" font-size="14" fill="#000" textLength="86.86" lengthAdjust="spacingAndGlyphs">11 May 01:30</text>
<text x="1025.98" y="815" font-family="Liberation Sans, sans-serif" font-size="14" fill="#000" textLength="86.89" lengthAdjust="spacingAndGlyphs">23 May 01:30</text>
<text x="1153.96" y="815" font-family="Liberation Sans, sans-serif" font-size="14" fill="#000" textLength="76.22" lengthAdjust="spacingAndGlyphs">2 Jun 01:30</text>
</svg>
</body></html>
